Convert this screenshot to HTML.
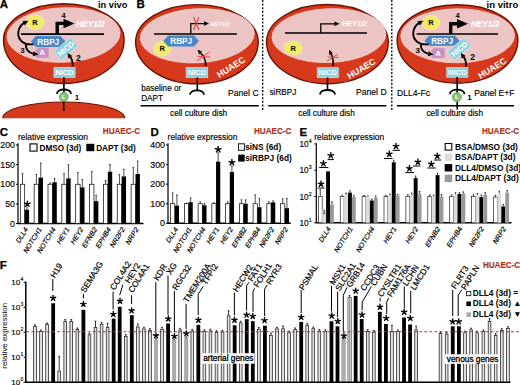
<!DOCTYPE html>
<html><head><meta charset="utf-8"><style>
html,body{margin:0;padding:0;background:#fff;overflow:hidden}
svg{display:block}
text{font-family:"Liberation Sans",sans-serif}
</style></head><body>
<svg width="520" height="385" viewBox="0 0 520 385">
<rect width="520" height="385" fill="#fff"/>
<text x="-0.30" y="8.40" font-size="11.5" font-weight="bold" font-style="normal" fill="#000" text-anchor="start" stroke="#000" stroke-width="0.25" >A</text>
<text x="98.00" y="8.30" font-size="9.3" font-weight="bold" font-style="normal" fill="#000" text-anchor="start"  >in vivo</text>
<path d="M3.5,40 A60.3,36.2 0 0 1 124.1,40 A60.3,43.5 0 0 1 3.5,40 Z" fill="#d6391c" stroke="#6a1206" stroke-width="1.4" transform="rotate(0 63.8 40)"/>
<ellipse cx="63.5" cy="35" rx="56.5" ry="27.3" fill="#ecc4c3" stroke="#f6d9d2" stroke-width="0.8" transform="rotate(-2.3 63.5 35)"/>
<line x1="21.00" y1="34.20" x2="104.00" y2="34.20" stroke="#000" stroke-width="1.7" />
<path d="M57.2,34.2 V23.4 H65.5" stroke="#000" stroke-width="3.4" fill="none"/>
<polygon points="74.50,23.40 63.50,28.15 63.50,18.65" fill="#000"/>
<text x="63.50" y="18.20" font-size="7.5" font-weight="bold" font-style="normal" fill="#000" text-anchor="middle"  >4</text>
<text x="76.30" y="26.60" font-size="8.2" font-weight="bold" font-style="italic" fill="#fff" text-anchor="start" stroke="#fff" stroke-width="0.2" >HEY1/2</text>
<ellipse cx="35.0" cy="22.3" rx="9.5" ry="8.0" fill="#f6f0a8" opacity="0.7"/>
<ellipse cx="35.0" cy="22.3" rx="8.3" ry="6.8" fill="#f3eb62"/>
<text x="35.00" y="25.00" font-size="7.5" font-weight="bold" font-style="normal" fill="#000" text-anchor="middle"  >R</text>
<polygon points="31,41.55 35.905,36.1 60.595,36.1 65.5,41.55 60.595,47 35.905,47" fill="#4a87c7"/>
<text x="48.25" y="44.50" font-size="8.2" font-weight="bold" font-style="normal" fill="#fff" text-anchor="middle"  >RBPJ</text>
<polygon points="38,47.6 48.6,47.6 48.6,57.8 36,57.8 36,49.6" fill="#c78fc6"/>
<text x="42.30" y="55.40" font-size="7.5" font-weight="bold" font-style="normal" fill="#fff" text-anchor="middle"  >A</text>
<g transform="translate(65.8 48.8) rotate(-40)">
<rect x="-10.75" y="-5.50" width="21.50" height="11.00" fill="#8dcfdf" stroke="#c5e8ef" stroke-width="0.8" />
<text x="0.00" y="2.81" font-size="7.8" font-weight="bold" font-style="normal" fill="#fff" text-anchor="middle"  >NICD</text>
</g>
<path d="M33.5,44.2 C24,45.5 17.5,40 18.3,32.5 C18.8,27.5 21.5,24.3 24.5,22.6" stroke="#000" stroke-width="1.9" fill="none"/>
<polygon points="28.30,20.80 24.93,25.54 22.49,20.95" fill="#000"/>
<path d="M25.8,44.6 C25.8,49.5 28.5,52.8 33.5,53.9" stroke="#000" stroke-width="1.9" fill="none"/>
<polygon points="38.40,54.60 32.83,56.26 33.73,51.14" fill="#000"/>
<text x="22.40" y="53.20" font-size="8" font-weight="bold" font-style="normal" fill="#000" text-anchor="middle"  >3</text>
<path d="M72.6,66.5 C73,61.5 71.8,58.5 69.8,56.3" stroke="#000" stroke-width="1.8" fill="none"/>
<polygon points="67.60,53.00 72.37,55.92 68.13,58.57" fill="#000"/>
<text x="78.30" y="60.60" font-size="8.5" font-weight="bold" font-style="normal" fill="#000" text-anchor="middle"  >2</text>
<rect x="54.00" y="67.50" width="21.00" height="9.80" fill="#8dcfdf" stroke="#c5e8ef" stroke-width="0.8" />
<text x="64.50" y="75.14" font-size="7.6" font-weight="bold" font-style="normal" fill="#fff" text-anchor="middle"  >NICD</text>
<line x1="63.90" y1="77.30" x2="63.90" y2="111.00" stroke="#000" stroke-width="1.6" />
<path d="M2.7,118.2 A61,16.2 0 0 1 124.7,118.2 Z" fill="#d6391c"/>
<path d="M2.7,118.2 A61,16.2 0 0 1 124.7,118.2" fill="none" stroke="#6a1206" stroke-width="1.1"/>
<line x1="63.70" y1="100.00" x2="63.70" y2="111.00" stroke="#000" stroke-width="1.6" />
<path d="M57.0,94.0 C57.0,88.0 71.0,88.0 71.0,94.0" stroke="#000" stroke-width="1.8" fill="none"/>
<circle cx="63.7" cy="96.9" r="4.6" fill="#86c271" stroke="#5b9a4a" stroke-width="0.6"/>
<text x="63.70" y="99.10" font-size="6.2" font-weight="bold" font-style="normal" fill="#fff" text-anchor="middle"  >L</text>
<text x="77.00" y="99.50" font-size="8" font-weight="bold" font-style="normal" fill="#000" text-anchor="middle"  >1</text>
<text x="136.60" y="8.40" font-size="11.5" font-weight="bold" font-style="normal" fill="#000" text-anchor="start" stroke="#000" stroke-width="0.25" >B</text>
<path d="M135.60000000000002,42 A61.3,37.4 0 0 1 258.2,42 A61.3,41.8 0 0 1 135.60000000000002,42 Z" fill="#d6391c" stroke="#6a1206" stroke-width="1.4" transform="rotate(0 196.9 42)"/>
<ellipse cx="197.3" cy="35.8" rx="57.0" ry="27.0" fill="#ecc4c3" stroke="#f6d9d2" stroke-width="0.8" transform="rotate(-3 197.3 35.8)"/>
<line x1="154.00" y1="34.00" x2="236.80" y2="34.00" stroke="#000" stroke-width="1.6" />
<path d="M190.8,34 V23.6 H206" stroke="#000" stroke-width="1.3" fill="none"/>
<polygon points="209.00,23.60 204.00,25.85 204.00,21.35" fill="#000"/>
<text x="210.50" y="25.80" font-size="5.6" font-weight="bold" font-style="italic" fill="#fff" text-anchor="start"  >HEY1/2</text>
<line x1="193.45" y1="17.00" x2="198.95" y2="30.00" stroke="#e04a3c" stroke-width="1.1" />
<line x1="198.95" y1="17.00" x2="193.45" y2="30.00" stroke="#e04a3c" stroke-width="1.1" />
<ellipse cx="162.3" cy="48.7" rx="9.2" ry="7.8" fill="#f6f0a8" opacity="0.7"/>
<ellipse cx="162.3" cy="48.7" rx="8.0" ry="6.6" fill="#f3eb62"/>
<text x="162.30" y="51.40" font-size="7.5" font-weight="bold" font-style="normal" fill="#000" text-anchor="middle"  >R</text>
<polygon points="163.3,41.05 168.205,35.6 194.095,35.6 199,41.05 194.095,46.5 168.205,46.5" fill="#4a87c7"/>
<text x="181.15" y="44.00" font-size="8.2" font-weight="bold" font-style="normal" fill="#fff" text-anchor="middle"  >RBPJ</text>
<path d="M205.7,66 C206,60 204,56 200.5,53" stroke="#000" stroke-width="1.6" fill="none"/>
<polygon points="197.50,49.80 202.17,51.50 199.20,54.47" fill="#000"/>
<line x1="197.00" y1="61.00" x2="209.30" y2="52.00" stroke="#e04a3c" stroke-width="1.0" />
<line x1="197.50" y1="56.30" x2="210.30" y2="57.00" stroke="#e04a3c" stroke-width="1.0" />
<rect x="186.20" y="67.60" width="21.50" height="9.80" fill="#8dcfdf" stroke="#c5e8ef" stroke-width="0.8" />
<text x="196.95" y="75.24" font-size="7.6" font-weight="bold" font-style="normal" fill="#fff" text-anchor="middle"  >NICD</text>
<text x="219.30" y="78.00" font-size="8.8" font-weight="bold" font-style="normal" fill="#fff" text-anchor="start"  transform="rotate(-32 219.3 78.0)">HUAEC</text>
<line x1="197.30" y1="77.40" x2="197.30" y2="91.00" stroke="#000" stroke-width="1.6" />
<path d="M190.0,94.8 C190.0,88.8 204.0,88.8 204.0,94.8" stroke="#000" stroke-width="1.8" fill="none"/>
<text x="141.20" y="90.60" font-size="8.2" font-weight="normal" font-style="normal" fill="#000" text-anchor="start" stroke="#000" stroke-width="0.15" >baseline or</text>
<text x="141.20" y="100.50" font-size="8.2" font-weight="normal" font-style="normal" fill="#000" text-anchor="start" stroke="#000" stroke-width="0.15" >DAPT</text>
<text x="258.60" y="95.70" font-size="8.6" font-weight="normal" font-style="normal" fill="#000" text-anchor="end" stroke="#000" stroke-width="0.15" >Panel C</text>
<line x1="140.50" y1="105.70" x2="258.80" y2="105.70" stroke="#000" stroke-width="1.6" />
<text x="170.00" y="116.30" font-size="8.3" font-weight="normal" font-style="normal" fill="#000" text-anchor="start" stroke="#000" stroke-width="0.15" >cell culture dish</text>
<line x1="262.70" y1="0.00" x2="262.70" y2="111.00" stroke="#000" stroke-width="1.3" stroke-dasharray="2,1.6"/>
<line x1="391.80" y1="0.00" x2="391.80" y2="111.00" stroke="#000" stroke-width="1.3" stroke-dasharray="2,1.6"/>
<path d="M266.5,42 A60.9,37.5 0 0 1 388.29999999999995,42 A60.9,41.75 0 0 1 266.5,42 Z" fill="#d6391c" stroke="#6a1206" stroke-width="1.4" transform="rotate(0 327.4 42)"/>
<ellipse cx="328.9" cy="35.6" rx="56.9" ry="26.9" fill="#ecc4c3" stroke="#f6d9d2" stroke-width="0.8" transform="rotate(-2 328.9 35.6)"/>
<line x1="285.00" y1="33.00" x2="367.00" y2="33.00" stroke="#000" stroke-width="1.6" />
<path d="M320.8,33 V23.8 H336.5" stroke="#000" stroke-width="1.3" fill="none"/>
<polygon points="339.50,23.80 334.50,26.05 334.50,21.55" fill="#000"/>
<text x="342.00" y="26.30" font-size="7.4" font-weight="bold" font-style="italic" fill="#fff" text-anchor="start"  >HEY1/2</text>
<ellipse cx="293.3" cy="48" rx="9.7" ry="7.4" fill="#f6f0a8" opacity="0.7"/>
<ellipse cx="293.3" cy="48" rx="8.5" ry="6.2" fill="#f3eb62"/>
<text x="293.30" y="50.70" font-size="7.5" font-weight="bold" font-style="normal" fill="#000" text-anchor="middle"  >R</text>
<path d="M333.2,66 C333.5,60 332.5,56 330.5,53" stroke="#000" stroke-width="1.6" fill="none"/>
<polygon points="329.30,49.80 332.81,53.31 328.87,54.75" fill="#000"/>
<line x1="327.00" y1="61.00" x2="338.00" y2="54.00" stroke="#e04a3c" stroke-width="1.0" />
<line x1="327.50" y1="57.00" x2="338.50" y2="57.50" stroke="#e04a3c" stroke-width="1.0" />
<rect x="317.30" y="67.80" width="21.00" height="9.80" fill="#8dcfdf" stroke="#c5e8ef" stroke-width="0.8" />
<text x="327.80" y="75.44" font-size="7.6" font-weight="bold" font-style="normal" fill="#fff" text-anchor="middle"  >NICD</text>
<text x="349.50" y="79.30" font-size="8.8" font-weight="bold" font-style="normal" fill="#fff" text-anchor="start"  transform="rotate(-31 349.5 79.3)">HUAEC</text>
<line x1="327.50" y1="77.50" x2="327.50" y2="91.00" stroke="#000" stroke-width="1.6" />
<path d="M320.0,94.5 C320.0,88.5 335.0,88.5 335.0,94.5" stroke="#000" stroke-width="1.8" fill="none"/>
<text x="269.50" y="95.20" font-size="8.2" font-weight="normal" font-style="normal" fill="#000" text-anchor="start" stroke="#000" stroke-width="0.15" >siRBPJ</text>
<text x="386.60" y="95.40" font-size="8.6" font-weight="normal" font-style="normal" fill="#000" text-anchor="end" stroke="#000" stroke-width="0.15" >Panel D</text>
<line x1="268.30" y1="105.70" x2="386.30" y2="105.70" stroke="#000" stroke-width="1.6" />
<text x="298.30" y="116.30" font-size="8.2" font-weight="normal" font-style="normal" fill="#000" text-anchor="start" stroke="#000" stroke-width="0.15" >cell culture dish</text>
<text x="486.60" y="8.00" font-size="9.5" font-weight="bold" font-style="normal" fill="#000" text-anchor="start"  >in vitro</text>
<path d="M397.1,40 A60.4,35.2 0 0 1 517.9,40 A60.4,43.2 0 0 1 397.1,40 Z" fill="#d6391c" stroke="#6a1206" stroke-width="1.4" transform="rotate(0 457.5 40)"/>
<ellipse cx="457.6" cy="35.8" rx="56.8" ry="27.0" fill="#ecc4c3" stroke="#f6d9d2" stroke-width="0.8" transform="rotate(-0.5 457.6 35.8)"/>
<line x1="416.60" y1="34.00" x2="498.00" y2="34.00" stroke="#000" stroke-width="1.7" />
<path d="M450.7,34.0 V23.7 H459.0" stroke="#000" stroke-width="3.4" fill="none"/>
<polygon points="468.00,23.70 457.00,28.45 457.00,18.95" fill="#000"/>
<text x="457.50" y="17.80" font-size="7.5" font-weight="bold" font-style="normal" fill="#000" text-anchor="middle"  >4</text>
<text x="471.00" y="26.70" font-size="8.2" font-weight="bold" font-style="italic" fill="#fff" text-anchor="start" stroke="#fff" stroke-width="0.2" >HEY1/2</text>
<ellipse cx="430.9" cy="22.7" rx="9.5" ry="7.7" fill="#f6f0a8" opacity="0.7"/>
<ellipse cx="430.9" cy="22.7" rx="8.3" ry="6.5" fill="#f3eb62"/>
<text x="430.90" y="25.40" font-size="7.5" font-weight="bold" font-style="normal" fill="#000" text-anchor="middle"  >R</text>
<polygon points="424.5,40.8 429.0,35.8 455.1,35.8 459.6,40.8 455.1,45.8 429.0,45.8" fill="#4a87c7"/>
<text x="442.05" y="43.75" font-size="8.2" font-weight="bold" font-style="normal" fill="#fff" text-anchor="middle"  >RBPJ</text>
<polygon points="433.7,48.2 444.6,48.2 444.6,57.9 431.7,57.9 431.7,50.2" fill="#c78fc6"/>
<text x="438.15" y="55.75" font-size="7.5" font-weight="bold" font-style="normal" fill="#fff" text-anchor="middle"  >A</text>
<g transform="translate(459.3 49.0) rotate(-40)">
<rect x="-10.75" y="-5.50" width="21.50" height="11.00" fill="#8dcfdf" stroke="#c5e8ef" stroke-width="0.8" />
<text x="0.00" y="2.81" font-size="7.8" font-weight="bold" font-style="normal" fill="#fff" text-anchor="middle"  >NICD</text>
</g>
<path d="M428.5,44.2 C419,45.5 412.5,40 413.3,32.5 C413.8,27.5 416.5,24.3 419.5,22.6" stroke="#000" stroke-width="1.9" fill="none"/>
<polygon points="423.30,20.80 419.93,25.54 417.49,20.95" fill="#000"/>
<path d="M420.8,44.6 C420.8,49.5 423.5,52.8 428.5,53.9" stroke="#000" stroke-width="1.9" fill="none"/>
<polygon points="433.40,54.60 427.83,56.26 428.73,51.14" fill="#000"/>
<text x="417.80" y="53.20" font-size="8" font-weight="bold" font-style="normal" fill="#000" text-anchor="middle"  >3</text>
<path d="M466,66.5 C466.4,61.5 465.2,58.5 463.2,56.3" stroke="#000" stroke-width="1.8" fill="none"/>
<polygon points="461.00,53.00 465.77,55.92 461.53,58.57" fill="#000"/>
<text x="472.60" y="60.40" font-size="8.5" font-weight="bold" font-style="normal" fill="#000" text-anchor="middle"  >2</text>
<rect x="446.80" y="67.70" width="21.00" height="9.50" fill="#8dcfdf" stroke="#c5e8ef" stroke-width="0.8" />
<text x="457.30" y="75.19" font-size="7.6" font-weight="bold" font-style="normal" fill="#fff" text-anchor="middle"  >NICD</text>
<text x="480.50" y="79.00" font-size="8.8" font-weight="bold" font-style="normal" fill="#fff" text-anchor="start"  transform="rotate(-32 480.5 79.0)">HUAEC</text>
<line x1="457.20" y1="77.00" x2="457.20" y2="109.50" stroke="#000" stroke-width="1.6" />
<path d="M449.95,94.2 C449.95,88.2 464.45,88.2 464.45,94.2" stroke="#000" stroke-width="1.8" fill="none"/>
<circle cx="456.8" cy="97.2" r="4.6" fill="#86c271" stroke="#5b9a4a" stroke-width="0.6"/>
<text x="456.80" y="99.40" font-size="6.2" font-weight="bold" font-style="normal" fill="#fff" text-anchor="middle"  >L</text>
<text x="469.50" y="100.00" font-size="8" font-weight="bold" font-style="normal" fill="#000" text-anchor="middle"  >1</text>
<text x="397.00" y="95.60" font-size="8.6" font-weight="normal" font-style="normal" fill="#000" text-anchor="start" stroke="#000" stroke-width="0.15" >DLL4-Fc</text>
<text x="514.60" y="95.70" font-size="8.6" font-weight="normal" font-style="normal" fill="#000" text-anchor="end" stroke="#000" stroke-width="0.15" >Panel E+F</text>
<line x1="397.00" y1="105.70" x2="514.00" y2="105.70" stroke="#000" stroke-width="1.6" />
<text x="426.50" y="115.60" font-size="8.2" font-weight="normal" font-style="normal" fill="#000" text-anchor="start" stroke="#000" stroke-width="0.15" >cell culture dish</text>
<text x="-0.30" y="135.80" font-size="11.5" font-weight="bold" font-style="normal" fill="#000" text-anchor="start" stroke="#000" stroke-width="0.25" >C</text>
<text x="18.00" y="139.70" font-size="8.4" font-weight="normal" font-style="normal" fill="#000" text-anchor="start" stroke="#000" stroke-width="0.15" >relative expression</text>
<text x="0" y="0" font-size="9.0" font-weight="bold" fill="#ad3422" stroke="#ad3422" stroke-width="0.2" transform="translate(102.8 134.1) scale(0.9 1)">HUAEC-C</text>
<rect x="30.00" y="143.90" width="7.00" height="7.20" fill="#fff" stroke="#000" stroke-width="1.1" />
<text x="39.50" y="151.00" font-size="8.2" font-weight="bold" font-style="normal" fill="#000" text-anchor="start"  >DMSO (3d)</text>
<rect x="86.30" y="143.80" width="8.00" height="7.40" fill="#000" stroke="none" stroke-width="0" />
<text x="96.20" y="151.00" font-size="8.2" font-weight="bold" font-style="normal" fill="#000" text-anchor="start"  >DAPT (3d)</text>
<line x1="18.00" y1="143.20" x2="18.00" y2="223.50" stroke="#000" stroke-width="1.2" />
<line x1="17.40" y1="223.50" x2="143.50" y2="223.50" stroke="#000" stroke-width="1.4" />
<line x1="16.00" y1="223.50" x2="18.00" y2="223.50" stroke="#000" stroke-width="1" />
<text x="15.00" y="226.60" font-size="8.8" font-weight="normal" font-style="normal" fill="#000" text-anchor="end" stroke="#000" stroke-width="0.15" >0</text>
<line x1="16.00" y1="203.88" x2="18.00" y2="203.88" stroke="#000" stroke-width="1" />
<text x="15.00" y="206.97" font-size="8.8" font-weight="normal" font-style="normal" fill="#000" text-anchor="end" stroke="#000" stroke-width="0.15" >50</text>
<line x1="16.00" y1="184.25" x2="18.00" y2="184.25" stroke="#000" stroke-width="1" />
<text x="15.00" y="187.35" font-size="8.8" font-weight="normal" font-style="normal" fill="#000" text-anchor="end" stroke="#000" stroke-width="0.15" >100</text>
<line x1="16.00" y1="164.62" x2="18.00" y2="164.62" stroke="#000" stroke-width="1" />
<text x="15.00" y="167.72" font-size="8.8" font-weight="normal" font-style="normal" fill="#000" text-anchor="end" stroke="#000" stroke-width="0.15" >150</text>
<line x1="16.00" y1="145.00" x2="18.00" y2="145.00" stroke="#000" stroke-width="1" />
<text x="15.00" y="148.10" font-size="8.8" font-weight="normal" font-style="normal" fill="#000" text-anchor="end" stroke="#000" stroke-width="0.15" >200</text>
<line x1="22.50" y1="184.25" x2="22.50" y2="173.65" stroke="#000" stroke-width="0.7" />
<line x1="21.70" y1="173.65" x2="23.30" y2="173.65" stroke="#000" stroke-width="0.7" />
<line x1="26.90" y1="209.76" x2="26.90" y2="207.80" stroke="#000" stroke-width="0.7" />
<line x1="26.10" y1="207.80" x2="27.70" y2="207.80" stroke="#000" stroke-width="0.7" />
<rect x="20.30" y="184.25" width="4.40" height="39.25" fill="#fff" stroke="#000" stroke-width="0.7" />
<rect x="24.70" y="209.76" width="4.40" height="13.74" fill="#000" stroke="none" stroke-width="0" />
<text x="28.30" y="229.30" font-size="7.0" font-weight="normal" font-style="italic" stroke="#000" stroke-width="0.2" text-anchor="end" transform="rotate(-58 28.30 229.30)">DLL4</text>
<line x1="36.35" y1="184.25" x2="36.35" y2="174.44" stroke="#000" stroke-width="0.7" />
<line x1="35.55" y1="174.44" x2="37.15" y2="174.44" stroke="#000" stroke-width="0.7" />
<line x1="40.75" y1="177.58" x2="40.75" y2="163.06" stroke="#000" stroke-width="0.7" />
<line x1="39.95" y1="163.06" x2="41.55" y2="163.06" stroke="#000" stroke-width="0.7" />
<rect x="34.15" y="184.25" width="4.40" height="39.25" fill="#fff" stroke="#000" stroke-width="0.7" />
<rect x="38.55" y="177.58" width="4.40" height="45.92" fill="#000" stroke="none" stroke-width="0" />
<text x="42.15" y="229.30" font-size="7.0" font-weight="normal" font-style="italic" stroke="#000" stroke-width="0.2" text-anchor="end" transform="rotate(-58 42.15 229.30)">NOTCH1</text>
<line x1="50.20" y1="184.25" x2="50.20" y2="183.07" stroke="#000" stroke-width="0.7" />
<line x1="49.40" y1="183.07" x2="51.00" y2="183.07" stroke="#000" stroke-width="0.7" />
<line x1="54.60" y1="182.29" x2="54.60" y2="178.36" stroke="#000" stroke-width="0.7" />
<line x1="53.80" y1="178.36" x2="55.40" y2="178.36" stroke="#000" stroke-width="0.7" />
<rect x="48.00" y="184.25" width="4.40" height="39.25" fill="#fff" stroke="#000" stroke-width="0.7" />
<rect x="52.40" y="182.29" width="4.40" height="41.21" fill="#000" stroke="none" stroke-width="0" />
<text x="56.00" y="229.30" font-size="7.0" font-weight="normal" font-style="italic" stroke="#000" stroke-width="0.2" text-anchor="end" transform="rotate(-58 56.00 229.30)">NOTCH4</text>
<line x1="64.05" y1="184.25" x2="64.05" y2="173.65" stroke="#000" stroke-width="0.7" />
<line x1="63.25" y1="173.65" x2="64.85" y2="173.65" stroke="#000" stroke-width="0.7" />
<line x1="68.45" y1="178.36" x2="68.45" y2="164.62" stroke="#000" stroke-width="0.7" />
<line x1="67.65" y1="164.62" x2="69.25" y2="164.62" stroke="#000" stroke-width="0.7" />
<rect x="61.85" y="184.25" width="4.40" height="39.25" fill="#fff" stroke="#000" stroke-width="0.7" />
<rect x="66.25" y="178.36" width="4.40" height="45.14" fill="#000" stroke="none" stroke-width="0" />
<text x="69.85" y="229.30" font-size="7.0" font-weight="normal" font-style="italic" stroke="#000" stroke-width="0.2" text-anchor="end" transform="rotate(-58 69.85 229.30)">HEY1</text>
<line x1="77.90" y1="184.25" x2="77.90" y2="172.47" stroke="#000" stroke-width="0.7" />
<line x1="77.10" y1="172.47" x2="78.70" y2="172.47" stroke="#000" stroke-width="0.7" />
<line x1="82.30" y1="187.39" x2="82.30" y2="179.54" stroke="#000" stroke-width="0.7" />
<line x1="81.50" y1="179.54" x2="83.10" y2="179.54" stroke="#000" stroke-width="0.7" />
<rect x="75.70" y="184.25" width="4.40" height="39.25" fill="#fff" stroke="#000" stroke-width="0.7" />
<rect x="80.10" y="187.39" width="4.40" height="36.11" fill="#000" stroke="none" stroke-width="0" />
<text x="83.70" y="229.30" font-size="7.0" font-weight="normal" font-style="italic" stroke="#000" stroke-width="0.2" text-anchor="end" transform="rotate(-58 83.70 229.30)">HEY2</text>
<line x1="91.75" y1="184.25" x2="91.75" y2="171.69" stroke="#000" stroke-width="0.7" />
<line x1="90.95" y1="171.69" x2="92.55" y2="171.69" stroke="#000" stroke-width="0.7" />
<line x1="96.15" y1="201.13" x2="96.15" y2="195.24" stroke="#000" stroke-width="0.7" />
<line x1="95.35" y1="195.24" x2="96.95" y2="195.24" stroke="#000" stroke-width="0.7" />
<rect x="89.55" y="184.25" width="4.40" height="39.25" fill="#fff" stroke="#000" stroke-width="0.7" />
<rect x="93.95" y="201.13" width="4.40" height="22.37" fill="#000" stroke="none" stroke-width="0" />
<text x="97.55" y="229.30" font-size="7.0" font-weight="normal" font-style="italic" stroke="#000" stroke-width="0.2" text-anchor="end" transform="rotate(-58 97.55 229.30)">EFNB2</text>
<line x1="105.60" y1="184.25" x2="105.60" y2="180.32" stroke="#000" stroke-width="0.7" />
<line x1="104.80" y1="180.32" x2="106.40" y2="180.32" stroke="#000" stroke-width="0.7" />
<line x1="110.00" y1="171.69" x2="110.00" y2="164.62" stroke="#000" stroke-width="0.7" />
<line x1="109.20" y1="164.62" x2="110.80" y2="164.62" stroke="#000" stroke-width="0.7" />
<rect x="103.40" y="184.25" width="4.40" height="39.25" fill="#fff" stroke="#000" stroke-width="0.7" />
<rect x="107.80" y="171.69" width="4.40" height="51.81" fill="#000" stroke="none" stroke-width="0" />
<text x="111.40" y="229.30" font-size="7.0" font-weight="normal" font-style="italic" stroke="#000" stroke-width="0.2" text-anchor="end" transform="rotate(-58 111.40 229.30)">EPHB4</text>
<line x1="119.45" y1="184.25" x2="119.45" y2="174.44" stroke="#000" stroke-width="0.7" />
<line x1="118.65" y1="174.44" x2="120.25" y2="174.44" stroke="#000" stroke-width="0.7" />
<line x1="123.85" y1="176.40" x2="123.85" y2="169.34" stroke="#000" stroke-width="0.7" />
<line x1="123.05" y1="169.34" x2="124.65" y2="169.34" stroke="#000" stroke-width="0.7" />
<rect x="117.25" y="184.25" width="4.40" height="39.25" fill="#fff" stroke="#000" stroke-width="0.7" />
<rect x="121.65" y="176.40" width="4.40" height="47.10" fill="#000" stroke="none" stroke-width="0" />
<text x="125.25" y="229.30" font-size="7.0" font-weight="normal" font-style="italic" stroke="#000" stroke-width="0.2" text-anchor="end" transform="rotate(-58 125.25 229.30)">NR2F2</text>
<line x1="133.30" y1="184.25" x2="133.30" y2="167.37" stroke="#000" stroke-width="0.7" />
<line x1="132.50" y1="167.37" x2="134.10" y2="167.37" stroke="#000" stroke-width="0.7" />
<line x1="137.70" y1="174.04" x2="137.70" y2="161.09" stroke="#000" stroke-width="0.7" />
<line x1="136.90" y1="161.09" x2="138.50" y2="161.09" stroke="#000" stroke-width="0.7" />
<rect x="131.10" y="184.25" width="4.40" height="39.25" fill="#fff" stroke="#000" stroke-width="0.7" />
<rect x="135.50" y="174.04" width="4.40" height="49.46" fill="#000" stroke="none" stroke-width="0" />
<text x="139.10" y="229.30" font-size="7.0" font-weight="normal" font-style="italic" stroke="#000" stroke-width="0.2" text-anchor="end" transform="rotate(-58 139.10 229.30)">NRP2</text>
<path d="M27.40,204.00L27.40,201.10M27.40,204.00L30.16,203.10M27.40,204.00L29.10,206.35M27.40,204.00L25.70,206.35M27.40,204.00L24.64,203.10" stroke="#000" stroke-width="1.4" stroke-linecap="round" fill="none"/>
<text x="150.60" y="136.20" font-size="11.5" font-weight="bold" font-style="normal" fill="#000" text-anchor="start" stroke="#000" stroke-width="0.25" >D</text>
<text x="167.60" y="139.70" font-size="8.4" font-weight="normal" font-style="normal" fill="#000" text-anchor="start" stroke="#000" stroke-width="0.15" >relative expression</text>
<text x="0" y="0" font-size="9.0" font-weight="bold" fill="#ad3422" stroke="#ad3422" stroke-width="0.2" transform="translate(254.0 134.1) scale(0.9 1)">HUAEC-C</text>
<rect x="238.40" y="143.80" width="6.00" height="6.50" fill="#fff" stroke="#000" stroke-width="0.9" />
<text x="245.20" y="150.30" font-size="8.3" font-weight="bold" font-style="normal" fill="#000" text-anchor="start"  >siNS (6d)</text>
<rect x="238.20" y="154.60" width="6.50" height="7.00" fill="#000" stroke="none" stroke-width="0" />
<text x="245.20" y="161.20" font-size="8.3" font-weight="bold" font-style="normal" fill="#000" text-anchor="start"  >siRBPJ (6d)</text>
<line x1="168.00" y1="143.20" x2="168.00" y2="223.30" stroke="#000" stroke-width="1.2" />
<line x1="167.40" y1="223.30" x2="290.80" y2="223.30" stroke="#000" stroke-width="1.4" />
<line x1="166.00" y1="223.30" x2="168.00" y2="223.30" stroke="#000" stroke-width="1" />
<text x="165.00" y="226.40" font-size="8.8" font-weight="normal" font-style="normal" fill="#000" text-anchor="end" stroke="#000" stroke-width="0.15" >0</text>
<line x1="166.00" y1="203.73" x2="168.00" y2="203.73" stroke="#000" stroke-width="1" />
<text x="165.00" y="206.83" font-size="8.8" font-weight="normal" font-style="normal" fill="#000" text-anchor="end" stroke="#000" stroke-width="0.15" >100</text>
<line x1="166.00" y1="184.16" x2="168.00" y2="184.16" stroke="#000" stroke-width="1" />
<text x="165.00" y="187.26" font-size="8.8" font-weight="normal" font-style="normal" fill="#000" text-anchor="end" stroke="#000" stroke-width="0.15" >200</text>
<line x1="166.00" y1="164.59" x2="168.00" y2="164.59" stroke="#000" stroke-width="1" />
<text x="165.00" y="167.69" font-size="8.8" font-weight="normal" font-style="normal" fill="#000" text-anchor="end" stroke="#000" stroke-width="0.15" >300</text>
<line x1="166.00" y1="145.02" x2="168.00" y2="145.02" stroke="#000" stroke-width="1" />
<text x="165.00" y="148.12" font-size="8.8" font-weight="normal" font-style="normal" fill="#000" text-anchor="end" stroke="#000" stroke-width="0.15" >400</text>
<line x1="172.70" y1="203.73" x2="172.70" y2="192.97" stroke="#000" stroke-width="0.7" />
<line x1="171.90" y1="192.97" x2="173.50" y2="192.97" stroke="#000" stroke-width="0.7" />
<line x1="176.90" y1="205.69" x2="176.90" y2="194.92" stroke="#000" stroke-width="0.7" />
<line x1="176.10" y1="194.92" x2="177.70" y2="194.92" stroke="#000" stroke-width="0.7" />
<rect x="170.60" y="203.73" width="4.20" height="19.57" fill="#fff" stroke="#000" stroke-width="0.7" />
<rect x="174.80" y="205.69" width="4.20" height="17.61" fill="#000" stroke="none" stroke-width="0" />
<text x="178.40" y="229.10" font-size="7.0" font-weight="normal" font-style="italic" stroke="#000" stroke-width="0.2" text-anchor="end" transform="rotate(-58 178.40 229.10)">DLL4</text>
<line x1="186.45" y1="203.73" x2="186.45" y2="203.14" stroke="#000" stroke-width="0.7" />
<line x1="185.65" y1="203.14" x2="187.25" y2="203.14" stroke="#000" stroke-width="0.7" />
<line x1="190.65" y1="202.16" x2="190.65" y2="197.86" stroke="#000" stroke-width="0.7" />
<line x1="189.85" y1="197.86" x2="191.45" y2="197.86" stroke="#000" stroke-width="0.7" />
<rect x="184.35" y="203.73" width="4.20" height="19.57" fill="#fff" stroke="#000" stroke-width="0.7" />
<rect x="188.55" y="202.16" width="4.20" height="21.14" fill="#000" stroke="none" stroke-width="0" />
<text x="192.15" y="229.10" font-size="7.0" font-weight="normal" font-style="italic" stroke="#000" stroke-width="0.2" text-anchor="end" transform="rotate(-58 192.15 229.10)">NOTCH1</text>
<line x1="200.20" y1="203.73" x2="200.20" y2="201.77" stroke="#000" stroke-width="0.7" />
<line x1="199.40" y1="201.77" x2="201.00" y2="201.77" stroke="#000" stroke-width="0.7" />
<line x1="204.40" y1="205.30" x2="204.40" y2="203.34" stroke="#000" stroke-width="0.7" />
<line x1="203.60" y1="203.34" x2="205.20" y2="203.34" stroke="#000" stroke-width="0.7" />
<rect x="198.10" y="203.73" width="4.20" height="19.57" fill="#fff" stroke="#000" stroke-width="0.7" />
<rect x="202.30" y="205.30" width="4.20" height="18.00" fill="#000" stroke="none" stroke-width="0" />
<text x="205.90" y="229.10" font-size="7.0" font-weight="normal" font-style="italic" stroke="#000" stroke-width="0.2" text-anchor="end" transform="rotate(-58 205.90 229.10)">NOTCH4</text>
<line x1="213.95" y1="203.73" x2="213.95" y2="202.75" stroke="#000" stroke-width="0.7" />
<line x1="213.15" y1="202.75" x2="214.75" y2="202.75" stroke="#000" stroke-width="0.7" />
<line x1="218.15" y1="161.65" x2="218.15" y2="152.85" stroke="#000" stroke-width="0.7" />
<line x1="217.35" y1="152.85" x2="218.95" y2="152.85" stroke="#000" stroke-width="0.7" />
<rect x="211.85" y="203.73" width="4.20" height="19.57" fill="#fff" stroke="#000" stroke-width="0.7" />
<rect x="216.05" y="161.65" width="4.20" height="61.65" fill="#000" stroke="none" stroke-width="0" />
<text x="219.65" y="229.10" font-size="7.0" font-weight="normal" font-style="italic" stroke="#000" stroke-width="0.2" text-anchor="end" transform="rotate(-58 219.65 229.10)">HEY1</text>
<line x1="227.70" y1="203.73" x2="227.70" y2="201.77" stroke="#000" stroke-width="0.7" />
<line x1="226.90" y1="201.77" x2="228.50" y2="201.77" stroke="#000" stroke-width="0.7" />
<line x1="231.90" y1="172.03" x2="231.90" y2="166.16" stroke="#000" stroke-width="0.7" />
<line x1="231.10" y1="166.16" x2="232.70" y2="166.16" stroke="#000" stroke-width="0.7" />
<rect x="225.60" y="203.73" width="4.20" height="19.57" fill="#fff" stroke="#000" stroke-width="0.7" />
<rect x="229.80" y="172.03" width="4.20" height="51.27" fill="#000" stroke="none" stroke-width="0" />
<text x="233.40" y="229.10" font-size="7.0" font-weight="normal" font-style="italic" stroke="#000" stroke-width="0.2" text-anchor="end" transform="rotate(-58 233.40 229.10)">HEY2</text>
<line x1="241.45" y1="203.73" x2="241.45" y2="199.82" stroke="#000" stroke-width="0.7" />
<line x1="240.65" y1="199.82" x2="242.25" y2="199.82" stroke="#000" stroke-width="0.7" />
<line x1="245.65" y1="203.73" x2="245.65" y2="199.82" stroke="#000" stroke-width="0.7" />
<line x1="244.85" y1="199.82" x2="246.45" y2="199.82" stroke="#000" stroke-width="0.7" />
<rect x="239.35" y="203.73" width="4.20" height="19.57" fill="#fff" stroke="#000" stroke-width="0.7" />
<rect x="243.55" y="203.73" width="4.20" height="19.57" fill="#000" stroke="none" stroke-width="0" />
<text x="247.15" y="229.10" font-size="7.0" font-weight="normal" font-style="italic" stroke="#000" stroke-width="0.2" text-anchor="end" transform="rotate(-58 247.15 229.10)">EFNB2</text>
<line x1="255.20" y1="203.73" x2="255.20" y2="194.92" stroke="#000" stroke-width="0.7" />
<line x1="254.40" y1="194.92" x2="256.00" y2="194.92" stroke="#000" stroke-width="0.7" />
<line x1="259.40" y1="207.25" x2="259.40" y2="198.45" stroke="#000" stroke-width="0.7" />
<line x1="258.60" y1="198.45" x2="260.20" y2="198.45" stroke="#000" stroke-width="0.7" />
<rect x="253.10" y="203.73" width="4.20" height="19.57" fill="#fff" stroke="#000" stroke-width="0.7" />
<rect x="257.30" y="207.25" width="4.20" height="16.05" fill="#000" stroke="none" stroke-width="0" />
<text x="260.90" y="229.10" font-size="7.0" font-weight="normal" font-style="italic" stroke="#000" stroke-width="0.2" text-anchor="end" transform="rotate(-58 260.90 229.10)">EPHB4</text>
<line x1="268.95" y1="203.73" x2="268.95" y2="201.77" stroke="#000" stroke-width="0.7" />
<line x1="268.15" y1="201.77" x2="269.75" y2="201.77" stroke="#000" stroke-width="0.7" />
<line x1="273.15" y1="202.36" x2="273.15" y2="200.79" stroke="#000" stroke-width="0.7" />
<line x1="272.35" y1="200.79" x2="273.95" y2="200.79" stroke="#000" stroke-width="0.7" />
<rect x="266.85" y="203.73" width="4.20" height="19.57" fill="#fff" stroke="#000" stroke-width="0.7" />
<rect x="271.05" y="202.36" width="4.20" height="20.94" fill="#000" stroke="none" stroke-width="0" />
<text x="274.65" y="229.10" font-size="7.0" font-weight="normal" font-style="italic" stroke="#000" stroke-width="0.2" text-anchor="end" transform="rotate(-58 274.65 229.10)">NR2F2</text>
<line x1="282.70" y1="203.73" x2="282.70" y2="198.84" stroke="#000" stroke-width="0.7" />
<line x1="281.90" y1="198.84" x2="283.50" y2="198.84" stroke="#000" stroke-width="0.7" />
<line x1="286.90" y1="208.23" x2="286.90" y2="198.45" stroke="#000" stroke-width="0.7" />
<line x1="286.10" y1="198.45" x2="287.70" y2="198.45" stroke="#000" stroke-width="0.7" />
<rect x="280.60" y="203.73" width="4.20" height="19.57" fill="#fff" stroke="#000" stroke-width="0.7" />
<rect x="284.80" y="208.23" width="4.20" height="15.07" fill="#000" stroke="none" stroke-width="0" />
<text x="288.40" y="229.10" font-size="7.0" font-weight="normal" font-style="italic" stroke="#000" stroke-width="0.2" text-anchor="end" transform="rotate(-58 288.40 229.10)">NRP2</text>
<path d="M218.15,149.50L218.15,146.50M218.15,149.50L221.00,148.57M218.15,149.50L219.91,151.93M218.15,149.50L216.39,151.93M218.15,149.50L215.30,148.57" stroke="#000" stroke-width="1.4" stroke-linecap="round" fill="none"/>
<path d="M231.90,162.50L231.90,159.50M231.90,162.50L234.75,161.57M231.90,162.50L233.66,164.93M231.90,162.50L230.14,164.93M231.90,162.50L229.05,161.57" stroke="#000" stroke-width="1.4" stroke-linecap="round" fill="none"/>
<text x="299.60" y="135.90" font-size="11.5" font-weight="bold" font-style="normal" fill="#000" text-anchor="start" stroke="#000" stroke-width="0.25" >E</text>
<text x="314.30" y="139.70" font-size="8.4" font-weight="normal" font-style="normal" fill="#000" text-anchor="start" stroke="#000" stroke-width="0.15" >relative expression</text>
<text x="0" y="0" font-size="9.0" font-weight="bold" fill="#ad3422" stroke="#ad3422" stroke-width="0.2" transform="translate(481.9 134.1) scale(0.9 1)">HUAEC-C</text>
<rect x="445.20" y="143.50" width="6.60" height="6.60" fill="#fff" stroke="#000" stroke-width="1.1" />
<text x="455.00" y="149.70" font-size="8.4" font-weight="bold" font-style="normal" fill="#000" text-anchor="start"  >BSA/DMSO (3d)</text>
<rect x="444.70" y="153.55" width="7.50" height="7.40" fill="#dcdcdc" stroke="none" stroke-width="0" />
<text x="455.00" y="160.25" font-size="8.4" font-weight="bold" font-style="normal" fill="#000" text-anchor="start"  >BSA/DAPT (3d)</text>
<rect x="444.70" y="164.10" width="7.50" height="7.40" fill="#000" stroke="none" stroke-width="0" />
<text x="455.00" y="170.80" font-size="8.4" font-weight="bold" font-style="normal" fill="#000" text-anchor="start"  >DLL4/DMSO (3d)</text>
<rect x="444.70" y="174.65" width="7.50" height="7.40" fill="#9a9a9a" stroke="none" stroke-width="0" />
<text x="455.00" y="181.35" font-size="8.4" font-weight="bold" font-style="normal" fill="#000" text-anchor="start"  >DLL4/DAPT (3d)</text>
<line x1="316.30" y1="143.20" x2="316.30" y2="222.80" stroke="#000" stroke-width="1.2" />
<line x1="315.70" y1="222.80" x2="511.50" y2="222.80" stroke="#000" stroke-width="1.4" />
<line x1="314.30" y1="222.80" x2="316.30" y2="222.80" stroke="#000" stroke-width="1" />
<text x="308.50" y="225.90" font-size="8.2" font-weight="normal" font-style="normal" fill="#000" text-anchor="end" stroke="#000" stroke-width="0.15" >10</text>
<text x="308.70" y="222.00" font-size="5.2" font-weight="normal" font-style="normal" fill="#000" text-anchor="start" stroke="#000" stroke-width="0.15" >1</text>
<line x1="314.30" y1="196.50" x2="316.30" y2="196.50" stroke="#000" stroke-width="1" />
<text x="308.50" y="199.60" font-size="8.2" font-weight="normal" font-style="normal" fill="#000" text-anchor="end" stroke="#000" stroke-width="0.15" >10</text>
<text x="308.70" y="195.70" font-size="5.2" font-weight="normal" font-style="normal" fill="#000" text-anchor="start" stroke="#000" stroke-width="0.15" >2</text>
<line x1="314.30" y1="170.20" x2="316.30" y2="170.20" stroke="#000" stroke-width="1" />
<text x="308.50" y="173.30" font-size="8.2" font-weight="normal" font-style="normal" fill="#000" text-anchor="end" stroke="#000" stroke-width="0.15" >10</text>
<text x="308.70" y="169.40" font-size="5.2" font-weight="normal" font-style="normal" fill="#000" text-anchor="start" stroke="#000" stroke-width="0.15" >3</text>
<line x1="314.30" y1="143.90" x2="316.30" y2="143.90" stroke="#000" stroke-width="1" />
<text x="308.50" y="147.00" font-size="8.2" font-weight="normal" font-style="normal" fill="#000" text-anchor="end" stroke="#000" stroke-width="0.15" >10</text>
<text x="308.70" y="143.10" font-size="5.2" font-weight="normal" font-style="normal" fill="#000" text-anchor="start" stroke="#000" stroke-width="0.15" >4</text>
<line x1="320.25" y1="196.50" x2="320.25" y2="189.79" stroke="#000" stroke-width="0.7" />
<line x1="319.45" y1="189.79" x2="321.05" y2="189.79" stroke="#000" stroke-width="0.7" />
<rect x="318.30" y="196.50" width="3.90" height="26.30" fill="#fff" stroke="#000" stroke-width="0.6" />
<rect x="322.20" y="209.51" width="3.90" height="13.29" fill="#dcdcdc" stroke="none" stroke-width="0" />
<rect x="326.10" y="171.40" width="3.90" height="51.40" fill="#000" stroke="none" stroke-width="0" />
<line x1="331.95" y1="204.42" x2="331.95" y2="201.78" stroke="#000" stroke-width="0.7" />
<line x1="331.15" y1="201.78" x2="332.75" y2="201.78" stroke="#000" stroke-width="0.7" />
<rect x="330.00" y="204.42" width="3.90" height="18.38" fill="#9a9a9a" stroke="none" stroke-width="0" />
<text x="331.10" y="228.60" font-size="7.0" font-weight="normal" font-style="italic" stroke="#000" stroke-width="0.2" text-anchor="end" transform="rotate(-58 331.10 228.60)">DLL4</text>
<line x1="342.15" y1="196.50" x2="342.15" y2="195.21" stroke="#000" stroke-width="0.7" />
<line x1="341.35" y1="195.21" x2="342.95" y2="195.21" stroke="#000" stroke-width="0.7" />
<rect x="340.20" y="196.50" width="3.90" height="26.30" fill="#fff" stroke="#000" stroke-width="0.6" />
<line x1="346.05" y1="194.90" x2="346.05" y2="193.07" stroke="#000" stroke-width="0.7" />
<line x1="345.25" y1="193.07" x2="346.85" y2="193.07" stroke="#000" stroke-width="0.7" />
<rect x="344.10" y="194.90" width="3.90" height="27.90" fill="#dcdcdc" stroke="none" stroke-width="0" />
<line x1="349.95" y1="192.66" x2="349.95" y2="190.78" stroke="#000" stroke-width="0.7" />
<line x1="349.15" y1="190.78" x2="350.75" y2="190.78" stroke="#000" stroke-width="0.7" />
<rect x="348.00" y="192.66" width="3.90" height="30.14" fill="#000" stroke="none" stroke-width="0" />
<line x1="353.85" y1="197.09" x2="353.85" y2="195.41" stroke="#000" stroke-width="0.7" />
<line x1="353.05" y1="195.41" x2="354.65" y2="195.41" stroke="#000" stroke-width="0.7" />
<rect x="351.90" y="197.09" width="3.90" height="25.71" fill="#9a9a9a" stroke="none" stroke-width="0" />
<text x="353.00" y="228.60" font-size="7.0" font-weight="normal" font-style="italic" stroke="#000" stroke-width="0.2" text-anchor="end" transform="rotate(-58 353.00 228.60)">NOTCH1</text>
<line x1="364.05" y1="196.50" x2="364.05" y2="195.41" stroke="#000" stroke-width="0.7" />
<line x1="363.25" y1="195.41" x2="364.85" y2="195.41" stroke="#000" stroke-width="0.7" />
<rect x="362.10" y="196.50" width="3.90" height="26.30" fill="#fff" stroke="#000" stroke-width="0.6" />
<line x1="367.95" y1="196.50" x2="367.95" y2="195.83" stroke="#000" stroke-width="0.7" />
<line x1="367.15" y1="195.83" x2="368.75" y2="195.83" stroke="#000" stroke-width="0.7" />
<rect x="366.00" y="196.50" width="3.90" height="26.30" fill="#dcdcdc" stroke="none" stroke-width="0" />
<line x1="371.85" y1="200.57" x2="371.85" y2="199.05" stroke="#000" stroke-width="0.7" />
<line x1="371.05" y1="199.05" x2="372.65" y2="199.05" stroke="#000" stroke-width="0.7" />
<rect x="369.90" y="200.57" width="3.90" height="22.23" fill="#000" stroke="none" stroke-width="0" />
<line x1="375.75" y1="197.70" x2="375.75" y2="195.94" stroke="#000" stroke-width="0.7" />
<line x1="374.95" y1="195.94" x2="376.55" y2="195.94" stroke="#000" stroke-width="0.7" />
<rect x="373.80" y="197.70" width="3.90" height="25.10" fill="#9a9a9a" stroke="none" stroke-width="0" />
<text x="374.90" y="228.60" font-size="7.0" font-weight="normal" font-style="italic" stroke="#000" stroke-width="0.2" text-anchor="end" transform="rotate(-58 374.90 228.60)">NOTCH4</text>
<line x1="385.95" y1="196.50" x2="385.95" y2="195.41" stroke="#000" stroke-width="0.7" />
<line x1="385.15" y1="195.41" x2="386.75" y2="195.41" stroke="#000" stroke-width="0.7" />
<rect x="384.00" y="196.50" width="3.90" height="26.30" fill="#fff" stroke="#000" stroke-width="0.6" />
<line x1="389.85" y1="195.21" x2="389.85" y2="193.95" stroke="#000" stroke-width="0.7" />
<line x1="389.05" y1="193.95" x2="390.65" y2="193.95" stroke="#000" stroke-width="0.7" />
<rect x="387.90" y="195.21" width="3.90" height="27.59" fill="#dcdcdc" stroke="none" stroke-width="0" />
<line x1="393.75" y1="162.28" x2="393.75" y2="160.20" stroke="#000" stroke-width="0.7" />
<line x1="392.95" y1="160.20" x2="394.55" y2="160.20" stroke="#000" stroke-width="0.7" />
<rect x="391.80" y="162.28" width="3.90" height="60.52" fill="#000" stroke="none" stroke-width="0" />
<line x1="397.65" y1="195.41" x2="397.65" y2="194.42" stroke="#000" stroke-width="0.7" />
<line x1="396.85" y1="194.42" x2="398.45" y2="194.42" stroke="#000" stroke-width="0.7" />
<rect x="395.70" y="195.41" width="3.90" height="27.39" fill="#9a9a9a" stroke="none" stroke-width="0" />
<text x="396.80" y="228.60" font-size="7.0" font-weight="normal" font-style="italic" stroke="#000" stroke-width="0.2" text-anchor="end" transform="rotate(-58 396.80 228.60)">HEY1</text>
<line x1="407.85" y1="196.50" x2="407.85" y2="194.61" stroke="#000" stroke-width="0.7" />
<line x1="407.05" y1="194.61" x2="408.65" y2="194.61" stroke="#000" stroke-width="0.7" />
<rect x="405.90" y="196.50" width="3.90" height="26.30" fill="#fff" stroke="#000" stroke-width="0.6" />
<line x1="411.75" y1="194.90" x2="411.75" y2="193.07" stroke="#000" stroke-width="0.7" />
<line x1="410.95" y1="193.07" x2="412.55" y2="193.07" stroke="#000" stroke-width="0.7" />
<rect x="409.80" y="194.90" width="3.90" height="27.90" fill="#dcdcdc" stroke="none" stroke-width="0" />
<line x1="415.65" y1="178.12" x2="415.65" y2="176.03" stroke="#000" stroke-width="0.7" />
<line x1="414.85" y1="176.03" x2="416.45" y2="176.03" stroke="#000" stroke-width="0.7" />
<rect x="413.70" y="178.12" width="3.90" height="44.68" fill="#000" stroke="none" stroke-width="0" />
<line x1="419.55" y1="193.50" x2="419.55" y2="191.49" stroke="#000" stroke-width="0.7" />
<line x1="418.75" y1="191.49" x2="420.35" y2="191.49" stroke="#000" stroke-width="0.7" />
<rect x="417.60" y="193.50" width="3.90" height="29.30" fill="#9a9a9a" stroke="none" stroke-width="0" />
<text x="418.70" y="228.60" font-size="7.0" font-weight="normal" font-style="italic" stroke="#000" stroke-width="0.2" text-anchor="end" transform="rotate(-58 418.70 228.60)">HEY2</text>
<line x1="429.75" y1="196.50" x2="429.75" y2="194.90" stroke="#000" stroke-width="0.7" />
<line x1="428.95" y1="194.90" x2="430.55" y2="194.90" stroke="#000" stroke-width="0.7" />
<rect x="427.80" y="196.50" width="3.90" height="26.30" fill="#fff" stroke="#000" stroke-width="0.6" />
<line x1="433.65" y1="196.50" x2="433.65" y2="195.21" stroke="#000" stroke-width="0.7" />
<line x1="432.85" y1="195.21" x2="434.45" y2="195.21" stroke="#000" stroke-width="0.7" />
<rect x="431.70" y="196.50" width="3.90" height="26.30" fill="#dcdcdc" stroke="none" stroke-width="0" />
<line x1="437.55" y1="175.12" x2="437.55" y2="173.33" stroke="#000" stroke-width="0.7" />
<line x1="436.75" y1="173.33" x2="438.35" y2="173.33" stroke="#000" stroke-width="0.7" />
<rect x="435.60" y="175.12" width="3.90" height="47.68" fill="#000" stroke="none" stroke-width="0" />
<line x1="441.45" y1="196.50" x2="441.45" y2="194.61" stroke="#000" stroke-width="0.7" />
<line x1="440.65" y1="194.61" x2="442.25" y2="194.61" stroke="#000" stroke-width="0.7" />
<rect x="439.50" y="196.50" width="3.90" height="26.30" fill="#9a9a9a" stroke="none" stroke-width="0" />
<text x="440.60" y="228.60" font-size="7.0" font-weight="normal" font-style="italic" stroke="#000" stroke-width="0.2" text-anchor="end" transform="rotate(-58 440.60 228.60)">EFNB2</text>
<line x1="451.65" y1="196.50" x2="451.65" y2="194.90" stroke="#000" stroke-width="0.7" />
<line x1="450.85" y1="194.90" x2="452.45" y2="194.90" stroke="#000" stroke-width="0.7" />
<rect x="449.70" y="196.50" width="3.90" height="26.30" fill="#fff" stroke="#000" stroke-width="0.6" />
<line x1="455.55" y1="194.42" x2="455.55" y2="192.66" stroke="#000" stroke-width="0.7" />
<line x1="454.75" y1="192.66" x2="456.35" y2="192.66" stroke="#000" stroke-width="0.7" />
<rect x="453.60" y="194.42" width="3.90" height="28.38" fill="#dcdcdc" stroke="none" stroke-width="0" />
<line x1="459.45" y1="193.95" x2="459.45" y2="192.66" stroke="#000" stroke-width="0.7" />
<line x1="458.65" y1="192.66" x2="460.25" y2="192.66" stroke="#000" stroke-width="0.7" />
<rect x="457.50" y="193.95" width="3.90" height="28.85" fill="#000" stroke="none" stroke-width="0" />
<line x1="463.35" y1="193.50" x2="463.35" y2="191.87" stroke="#000" stroke-width="0.7" />
<line x1="462.55" y1="191.87" x2="464.15" y2="191.87" stroke="#000" stroke-width="0.7" />
<rect x="461.40" y="193.50" width="3.90" height="29.30" fill="#9a9a9a" stroke="none" stroke-width="0" />
<text x="462.50" y="228.60" font-size="7.0" font-weight="normal" font-style="italic" stroke="#000" stroke-width="0.2" text-anchor="end" transform="rotate(-58 462.50 228.60)">EPHB4</text>
<line x1="473.55" y1="196.50" x2="473.55" y2="194.61" stroke="#000" stroke-width="0.7" />
<line x1="472.75" y1="194.61" x2="474.35" y2="194.61" stroke="#000" stroke-width="0.7" />
<rect x="471.60" y="196.50" width="3.90" height="26.30" fill="#fff" stroke="#000" stroke-width="0.6" />
<line x1="477.45" y1="195.41" x2="477.45" y2="193.50" stroke="#000" stroke-width="0.7" />
<line x1="476.65" y1="193.50" x2="478.25" y2="193.50" stroke="#000" stroke-width="0.7" />
<rect x="475.50" y="195.41" width="3.90" height="27.39" fill="#dcdcdc" stroke="none" stroke-width="0" />
<line x1="481.35" y1="197.09" x2="481.35" y2="194.90" stroke="#000" stroke-width="0.7" />
<line x1="480.55" y1="194.90" x2="482.15" y2="194.90" stroke="#000" stroke-width="0.7" />
<rect x="479.40" y="197.09" width="3.90" height="25.71" fill="#000" stroke="none" stroke-width="0" />
<line x1="485.25" y1="194.90" x2="485.25" y2="192.66" stroke="#000" stroke-width="0.7" />
<line x1="484.45" y1="192.66" x2="486.05" y2="192.66" stroke="#000" stroke-width="0.7" />
<rect x="483.30" y="194.90" width="3.90" height="27.90" fill="#9a9a9a" stroke="none" stroke-width="0" />
<text x="484.40" y="228.60" font-size="7.0" font-weight="normal" font-style="italic" stroke="#000" stroke-width="0.2" text-anchor="end" transform="rotate(-58 484.40 228.60)">NR2F2</text>
<line x1="495.45" y1="197.09" x2="495.45" y2="195.21" stroke="#000" stroke-width="0.7" />
<line x1="494.65" y1="195.21" x2="496.25" y2="195.21" stroke="#000" stroke-width="0.7" />
<rect x="493.50" y="197.09" width="3.90" height="25.71" fill="#fff" stroke="#000" stroke-width="0.6" />
<line x1="499.35" y1="193.50" x2="499.35" y2="191.13" stroke="#000" stroke-width="0.7" />
<line x1="498.55" y1="191.13" x2="500.15" y2="191.13" stroke="#000" stroke-width="0.7" />
<rect x="497.40" y="193.50" width="3.90" height="29.30" fill="#dcdcdc" stroke="none" stroke-width="0" />
<line x1="503.25" y1="206.41" x2="503.25" y2="204.42" stroke="#000" stroke-width="0.7" />
<line x1="502.45" y1="204.42" x2="504.05" y2="204.42" stroke="#000" stroke-width="0.7" />
<rect x="501.30" y="206.41" width="3.90" height="16.39" fill="#000" stroke="none" stroke-width="0" />
<line x1="507.15" y1="192.66" x2="507.15" y2="190.44" stroke="#000" stroke-width="0.7" />
<line x1="506.35" y1="190.44" x2="507.95" y2="190.44" stroke="#000" stroke-width="0.7" />
<rect x="505.20" y="192.66" width="3.90" height="30.14" fill="#9a9a9a" stroke="none" stroke-width="0" />
<text x="506.30" y="228.60" font-size="7.0" font-weight="normal" font-style="italic" stroke="#000" stroke-width="0.2" text-anchor="end" transform="rotate(-58 506.30 228.60)">NRP2</text>
<line x1="324.15" y1="209.51" x2="324.15" y2="213.79" stroke="#000" stroke-width="0.7" />
<line x1="323.45" y1="213.79" x2="324.85" y2="213.79" stroke="#000" stroke-width="0.7" />
<line x1="317.70" y1="188.00" x2="324.60" y2="188.00" stroke="#000" stroke-width="1.0" />
<path d="M321.00,184.00L321.00,181.10M321.00,184.00L323.76,183.10M321.00,184.00L322.70,186.35M321.00,184.00L319.30,186.35M321.00,184.00L318.24,183.10" stroke="#000" stroke-width="1.4" stroke-linecap="round" fill="none"/>
<line x1="319.20" y1="167.50" x2="328.30" y2="167.50" stroke="#000" stroke-width="1.0" />
<path d="M323.40,163.60L323.40,160.70M323.40,163.60L326.16,162.70M323.40,163.60L325.10,165.95M323.40,163.60L321.70,165.95M323.40,163.60L320.64,162.70" stroke="#000" stroke-width="1.4" stroke-linecap="round" fill="none"/>
<line x1="327.60" y1="159.60" x2="334.00" y2="159.60" stroke="#000" stroke-width="1.0" />
<path d="M330.80,155.60L330.80,152.70M330.80,155.60L333.56,154.70M330.80,155.60L332.50,157.95M330.80,155.60L329.10,157.95M330.80,155.60L328.04,154.70" stroke="#000" stroke-width="1.4" stroke-linecap="round" fill="none"/>
<line x1="384.00" y1="158.50" x2="392.60" y2="158.50" stroke="#000" stroke-width="1.0" />
<path d="M389.30,154.00L389.30,151.10M389.30,154.00L392.06,153.10M389.30,154.00L391.00,156.35M389.30,154.00L387.60,156.35M389.30,154.00L386.54,153.10" stroke="#000" stroke-width="1.4" stroke-linecap="round" fill="none"/>
<line x1="392.60" y1="150.30" x2="400.00" y2="150.30" stroke="#000" stroke-width="1.0" />
<path d="M396.00,146.30L396.00,143.40M396.00,146.30L398.76,145.40M396.00,146.30L397.70,148.65M396.00,146.30L394.30,148.65M396.00,146.30L393.24,145.40" stroke="#000" stroke-width="1.4" stroke-linecap="round" fill="none"/>
<line x1="405.40" y1="172.50" x2="413.90" y2="172.50" stroke="#000" stroke-width="1.0" />
<path d="M409.40,168.50L409.40,165.60M409.40,168.50L412.16,167.60M409.40,168.50L411.10,170.85M409.40,168.50L407.70,170.85M409.40,168.50L406.64,167.60" stroke="#000" stroke-width="1.4" stroke-linecap="round" fill="none"/>
<line x1="412.90" y1="166.00" x2="420.40" y2="166.00" stroke="#000" stroke-width="1.0" />
<path d="M417.90,162.00L417.90,159.10M417.90,162.00L420.66,161.10M417.90,162.00L419.60,164.35M417.90,162.00L416.20,164.35M417.90,162.00L415.14,161.10" stroke="#000" stroke-width="1.4" stroke-linecap="round" fill="none"/>
<line x1="427.30" y1="168.00" x2="435.80" y2="168.00" stroke="#000" stroke-width="1.0" />
<path d="M431.30,164.00L431.30,161.10M431.30,164.00L434.06,163.10M431.30,164.00L433.00,166.35M431.30,164.00L429.60,166.35M431.30,164.00L428.54,163.10" stroke="#000" stroke-width="1.4" stroke-linecap="round" fill="none"/>
<line x1="433.80" y1="160.00" x2="441.30" y2="160.00" stroke="#000" stroke-width="1.0" />
<path d="M437.30,156.00L437.30,153.10M437.30,156.00L440.06,155.10M437.30,156.00L439.00,158.35M437.30,156.00L435.60,158.35M437.30,156.00L434.54,155.10" stroke="#000" stroke-width="1.4" stroke-linecap="round" fill="none"/>
<text x="-0.30" y="268.70" font-size="11.5" font-weight="bold" font-style="normal" fill="#000" text-anchor="start" stroke="#000" stroke-width="0.25" >F</text>
<text x="0" y="0" font-size="9.0" font-weight="bold" fill="#ad3422" stroke="#ad3422" stroke-width="0.2" transform="translate(482.9 268.2) scale(0.9 1)">HUAEC-C</text>
<text x="0" y="0" font-size="7.9" transform="translate(6.8 335.8) rotate(-90)" text-anchor="middle">relative expression</text>
<line x1="23.60" y1="382.30" x2="25.80" y2="382.30" stroke="#000" stroke-width="1.1" />
<text x="20.20" y="385.10" font-size="8.0" font-weight="normal" font-style="normal" fill="#000" text-anchor="end" stroke="#000" stroke-width="0.15" >10</text>
<text x="20.40" y="381.10" font-size="5.0" font-weight="normal" font-style="normal" fill="#000" text-anchor="start" stroke="#000" stroke-width="0.15" >0</text>
<line x1="23.60" y1="357.30" x2="25.80" y2="357.30" stroke="#000" stroke-width="1.1" />
<text x="20.20" y="360.10" font-size="8.0" font-weight="normal" font-style="normal" fill="#000" text-anchor="end" stroke="#000" stroke-width="0.15" >10</text>
<text x="20.40" y="356.10" font-size="5.0" font-weight="normal" font-style="normal" fill="#000" text-anchor="start" stroke="#000" stroke-width="0.15" >1</text>
<line x1="23.60" y1="332.30" x2="25.80" y2="332.30" stroke="#000" stroke-width="1.1" />
<text x="20.20" y="335.10" font-size="8.0" font-weight="normal" font-style="normal" fill="#000" text-anchor="end" stroke="#000" stroke-width="0.15" >10</text>
<text x="20.40" y="331.10" font-size="5.0" font-weight="normal" font-style="normal" fill="#000" text-anchor="start" stroke="#000" stroke-width="0.15" >2</text>
<line x1="23.60" y1="307.30" x2="25.80" y2="307.30" stroke="#000" stroke-width="1.1" />
<text x="20.20" y="310.10" font-size="8.0" font-weight="normal" font-style="normal" fill="#000" text-anchor="end" stroke="#000" stroke-width="0.15" >10</text>
<text x="20.40" y="306.10" font-size="5.0" font-weight="normal" font-style="normal" fill="#000" text-anchor="start" stroke="#000" stroke-width="0.15" >3</text>
<line x1="23.60" y1="282.30" x2="25.80" y2="282.30" stroke="#000" stroke-width="1.1" />
<text x="20.20" y="285.10" font-size="8.0" font-weight="normal" font-style="normal" fill="#000" text-anchor="end" stroke="#000" stroke-width="0.15" >10</text>
<text x="20.40" y="281.10" font-size="5.0" font-weight="normal" font-style="normal" fill="#000" text-anchor="start" stroke="#000" stroke-width="0.15" >4</text>
<line x1="35.00" y1="326.20" x2="35.00" y2="324.90" stroke="#000" stroke-width="0.8" />
<line x1="34.10" y1="324.90" x2="35.90" y2="324.90" stroke="#000" stroke-width="0.8" />
<rect x="33.65" y="326.55" width="2.70" height="56.10" fill="#e2e2e2" stroke="#111" stroke-width="0.7" />
<line x1="41.05" y1="331.30" x2="41.05" y2="330.00" stroke="#000" stroke-width="0.8" />
<line x1="40.15" y1="330.00" x2="41.95" y2="330.00" stroke="#000" stroke-width="0.8" />
<rect x="39.70" y="331.65" width="2.70" height="51.00" fill="#e2e2e2" stroke="#111" stroke-width="0.7" />
<line x1="47.10" y1="324.30" x2="47.10" y2="323.00" stroke="#000" stroke-width="0.8" />
<line x1="46.20" y1="323.00" x2="48.00" y2="323.00" stroke="#000" stroke-width="0.8" />
<rect x="45.75" y="324.65" width="2.70" height="58.00" fill="#e2e2e2" stroke="#111" stroke-width="0.7" />
<rect x="51.25" y="303.30" width="3.80" height="79.00" fill="#000" stroke="none" stroke-width="0" />
<line x1="59.20" y1="370.70" x2="59.20" y2="356.40" stroke="#000" stroke-width="0.8" />
<line x1="58.30" y1="356.40" x2="60.10" y2="356.40" stroke="#000" stroke-width="0.8" />
<rect x="57.85" y="371.05" width="2.70" height="11.60" fill="#e2e2e2" stroke="#111" stroke-width="0.7" />
<line x1="65.25" y1="321.20" x2="65.25" y2="319.60" stroke="#000" stroke-width="0.8" />
<line x1="64.35" y1="319.60" x2="66.15" y2="319.60" stroke="#000" stroke-width="0.8" />
<rect x="63.90" y="321.55" width="2.70" height="61.10" fill="#e2e2e2" stroke="#111" stroke-width="0.7" />
<line x1="71.30" y1="321.20" x2="71.30" y2="319.60" stroke="#000" stroke-width="0.8" />
<line x1="70.40" y1="319.60" x2="72.20" y2="319.60" stroke="#000" stroke-width="0.8" />
<rect x="69.95" y="321.55" width="2.70" height="61.10" fill="#e2e2e2" stroke="#111" stroke-width="0.7" />
<line x1="77.35" y1="329.30" x2="77.35" y2="328.00" stroke="#000" stroke-width="0.8" />
<line x1="76.45" y1="328.00" x2="78.25" y2="328.00" stroke="#000" stroke-width="0.8" />
<rect x="76.00" y="329.65" width="2.70" height="53.00" fill="#e2e2e2" stroke="#111" stroke-width="0.7" />
<rect x="81.50" y="309.80" width="3.80" height="72.50" fill="#000" stroke="none" stroke-width="0" />
<line x1="89.45" y1="334.50" x2="89.45" y2="333.20" stroke="#000" stroke-width="0.8" />
<line x1="88.55" y1="333.20" x2="90.35" y2="333.20" stroke="#000" stroke-width="0.8" />
<rect x="88.10" y="334.85" width="2.70" height="47.80" fill="#e2e2e2" stroke="#111" stroke-width="0.7" />
<line x1="95.50" y1="327.30" x2="95.50" y2="321.20" stroke="#000" stroke-width="0.8" />
<line x1="94.60" y1="321.20" x2="96.40" y2="321.20" stroke="#000" stroke-width="0.8" />
<rect x="94.15" y="327.65" width="2.70" height="55.00" fill="#e2e2e2" stroke="#111" stroke-width="0.7" />
<line x1="101.55" y1="323.90" x2="101.55" y2="322.60" stroke="#000" stroke-width="0.8" />
<line x1="100.65" y1="322.60" x2="102.45" y2="322.60" stroke="#000" stroke-width="0.8" />
<rect x="100.20" y="324.25" width="2.70" height="58.40" fill="#e2e2e2" stroke="#111" stroke-width="0.7" />
<line x1="107.60" y1="327.00" x2="107.60" y2="323.30" stroke="#000" stroke-width="0.8" />
<line x1="106.70" y1="323.30" x2="108.50" y2="323.30" stroke="#000" stroke-width="0.8" />
<rect x="106.25" y="327.35" width="2.70" height="55.30" fill="#e2e2e2" stroke="#111" stroke-width="0.7" />
<rect x="111.75" y="318.60" width="3.80" height="63.70" fill="#000" stroke="none" stroke-width="0" />
<rect x="117.80" y="306.80" width="3.80" height="75.50" fill="#000" stroke="none" stroke-width="0" />
<line x1="125.75" y1="336.00" x2="125.75" y2="334.70" stroke="#000" stroke-width="0.8" />
<line x1="124.85" y1="334.70" x2="126.65" y2="334.70" stroke="#000" stroke-width="0.8" />
<rect x="124.40" y="336.35" width="2.70" height="46.30" fill="#e2e2e2" stroke="#111" stroke-width="0.7" />
<rect x="129.90" y="315.20" width="3.80" height="67.10" fill="#000" stroke="none" stroke-width="0" />
<line x1="137.85" y1="326.60" x2="137.85" y2="324.00" stroke="#000" stroke-width="0.8" />
<line x1="136.95" y1="324.00" x2="138.75" y2="324.00" stroke="#000" stroke-width="0.8" />
<rect x="136.50" y="326.95" width="2.70" height="55.70" fill="#e2e2e2" stroke="#111" stroke-width="0.7" />
<line x1="143.90" y1="328.60" x2="143.90" y2="327.30" stroke="#000" stroke-width="0.8" />
<line x1="143.00" y1="327.30" x2="144.80" y2="327.30" stroke="#000" stroke-width="0.8" />
<rect x="142.55" y="328.95" width="2.70" height="53.70" fill="#e2e2e2" stroke="#111" stroke-width="0.7" />
<line x1="149.95" y1="330.00" x2="149.95" y2="328.70" stroke="#000" stroke-width="0.8" />
<line x1="149.05" y1="328.70" x2="150.85" y2="328.70" stroke="#000" stroke-width="0.8" />
<rect x="148.60" y="330.35" width="2.70" height="52.30" fill="#e2e2e2" stroke="#111" stroke-width="0.7" />
<line x1="156.00" y1="340.00" x2="156.00" y2="338.70" stroke="#000" stroke-width="0.8" />
<line x1="155.10" y1="338.70" x2="156.90" y2="338.70" stroke="#000" stroke-width="0.8" />
<rect x="154.30" y="340.00" width="3.40" height="42.30" fill="#adadad" stroke="#8a8a8a" stroke-width="0.5" />
<line x1="162.05" y1="329.30" x2="162.05" y2="327.40" stroke="#000" stroke-width="0.8" />
<line x1="161.15" y1="327.40" x2="162.95" y2="327.40" stroke="#000" stroke-width="0.8" />
<rect x="160.70" y="329.65" width="2.70" height="53.00" fill="#e2e2e2" stroke="#111" stroke-width="0.7" />
<rect x="166.20" y="323.50" width="3.80" height="58.80" fill="#000" stroke="none" stroke-width="0" />
<line x1="174.15" y1="340.50" x2="174.15" y2="339.20" stroke="#000" stroke-width="0.8" />
<line x1="173.25" y1="339.20" x2="175.05" y2="339.20" stroke="#000" stroke-width="0.8" />
<rect x="172.45" y="340.50" width="3.40" height="41.80" fill="#adadad" stroke="#8a8a8a" stroke-width="0.5" />
<line x1="180.20" y1="329.70" x2="180.20" y2="328.40" stroke="#000" stroke-width="0.8" />
<line x1="179.30" y1="328.40" x2="181.10" y2="328.40" stroke="#000" stroke-width="0.8" />
<rect x="178.85" y="330.05" width="2.70" height="52.60" fill="#e2e2e2" stroke="#111" stroke-width="0.7" />
<line x1="186.25" y1="338.30" x2="186.25" y2="337.00" stroke="#000" stroke-width="0.8" />
<line x1="185.35" y1="337.00" x2="187.15" y2="337.00" stroke="#000" stroke-width="0.8" />
<rect x="184.55" y="338.30" width="3.40" height="44.00" fill="#adadad" stroke="#8a8a8a" stroke-width="0.5" />
<line x1="192.30" y1="330.70" x2="192.30" y2="329.40" stroke="#000" stroke-width="0.8" />
<line x1="191.40" y1="329.40" x2="193.20" y2="329.40" stroke="#000" stroke-width="0.8" />
<rect x="190.95" y="331.05" width="2.70" height="51.60" fill="#e2e2e2" stroke="#111" stroke-width="0.7" />
<rect x="196.45" y="324.90" width="3.80" height="57.40" fill="#000" stroke="none" stroke-width="0" />
<line x1="204.40" y1="331.00" x2="204.40" y2="329.70" stroke="#000" stroke-width="0.8" />
<line x1="203.50" y1="329.70" x2="205.30" y2="329.70" stroke="#000" stroke-width="0.8" />
<rect x="203.05" y="331.35" width="2.70" height="51.30" fill="#e2e2e2" stroke="#111" stroke-width="0.7" />
<line x1="210.45" y1="330.50" x2="210.45" y2="329.20" stroke="#000" stroke-width="0.8" />
<line x1="209.55" y1="329.20" x2="211.35" y2="329.20" stroke="#000" stroke-width="0.8" />
<rect x="209.10" y="330.85" width="2.70" height="51.80" fill="#e2e2e2" stroke="#111" stroke-width="0.7" />
<line x1="216.50" y1="332.00" x2="216.50" y2="330.70" stroke="#000" stroke-width="0.8" />
<line x1="215.60" y1="330.70" x2="217.40" y2="330.70" stroke="#000" stroke-width="0.8" />
<rect x="215.15" y="332.35" width="2.70" height="50.30" fill="#e2e2e2" stroke="#111" stroke-width="0.7" />
<line x1="222.55" y1="331.60" x2="222.55" y2="330.30" stroke="#000" stroke-width="0.8" />
<line x1="221.65" y1="330.30" x2="223.45" y2="330.30" stroke="#000" stroke-width="0.8" />
<rect x="221.20" y="331.95" width="2.70" height="50.70" fill="#e2e2e2" stroke="#111" stroke-width="0.7" />
<line x1="228.60" y1="315.50" x2="228.60" y2="310.80" stroke="#000" stroke-width="0.8" />
<line x1="227.70" y1="310.80" x2="229.50" y2="310.80" stroke="#000" stroke-width="0.8" />
<rect x="227.25" y="315.85" width="2.70" height="66.80" fill="#e2e2e2" stroke="#111" stroke-width="0.7" />
<rect x="232.75" y="325.30" width="3.80" height="57.00" fill="#000" stroke="none" stroke-width="0" />
<line x1="240.70" y1="322.60" x2="240.70" y2="321.30" stroke="#000" stroke-width="0.8" />
<line x1="239.80" y1="321.30" x2="241.60" y2="321.30" stroke="#000" stroke-width="0.8" />
<rect x="239.35" y="322.95" width="2.70" height="59.70" fill="#e2e2e2" stroke="#111" stroke-width="0.7" />
<rect x="244.85" y="319.20" width="3.80" height="63.10" fill="#000" stroke="none" stroke-width="0" />
<rect x="250.90" y="321.20" width="3.80" height="61.10" fill="#000" stroke="none" stroke-width="0" />
<line x1="258.85" y1="328.90" x2="258.85" y2="327.60" stroke="#000" stroke-width="0.8" />
<line x1="257.95" y1="327.60" x2="259.75" y2="327.60" stroke="#000" stroke-width="0.8" />
<rect x="257.50" y="329.25" width="2.70" height="53.40" fill="#e2e2e2" stroke="#111" stroke-width="0.7" />
<rect x="263.00" y="325.70" width="3.80" height="56.60" fill="#000" stroke="none" stroke-width="0" />
<line x1="270.95" y1="335.10" x2="270.95" y2="333.20" stroke="#000" stroke-width="0.8" />
<line x1="270.05" y1="333.20" x2="271.85" y2="333.20" stroke="#000" stroke-width="0.8" />
<rect x="269.60" y="335.45" width="2.70" height="47.20" fill="#e2e2e2" stroke="#111" stroke-width="0.7" />
<line x1="277.00" y1="328.60" x2="277.00" y2="327.30" stroke="#000" stroke-width="0.8" />
<line x1="276.10" y1="327.30" x2="277.90" y2="327.30" stroke="#000" stroke-width="0.8" />
<rect x="275.65" y="328.95" width="2.70" height="53.70" fill="#e2e2e2" stroke="#111" stroke-width="0.7" />
<line x1="283.05" y1="328.40" x2="283.05" y2="326.00" stroke="#000" stroke-width="0.8" />
<line x1="282.15" y1="326.00" x2="283.95" y2="326.00" stroke="#000" stroke-width="0.8" />
<rect x="281.70" y="328.75" width="2.70" height="53.90" fill="#e2e2e2" stroke="#111" stroke-width="0.7" />
<line x1="289.10" y1="332.40" x2="289.10" y2="331.10" stroke="#000" stroke-width="0.8" />
<line x1="288.20" y1="331.10" x2="290.00" y2="331.10" stroke="#000" stroke-width="0.8" />
<rect x="287.75" y="332.75" width="2.70" height="49.90" fill="#e2e2e2" stroke="#111" stroke-width="0.7" />
<line x1="295.15" y1="329.30" x2="295.15" y2="328.00" stroke="#000" stroke-width="0.8" />
<line x1="294.25" y1="328.00" x2="296.05" y2="328.00" stroke="#000" stroke-width="0.8" />
<rect x="293.80" y="329.65" width="2.70" height="53.00" fill="#e2e2e2" stroke="#111" stroke-width="0.7" />
<rect x="299.30" y="321.90" width="3.80" height="60.40" fill="#000" stroke="none" stroke-width="0" />
<line x1="307.25" y1="324.90" x2="307.25" y2="323.60" stroke="#000" stroke-width="0.8" />
<line x1="306.35" y1="323.60" x2="308.15" y2="323.60" stroke="#000" stroke-width="0.8" />
<rect x="305.90" y="325.25" width="2.70" height="57.40" fill="#e2e2e2" stroke="#111" stroke-width="0.7" />
<line x1="313.30" y1="328.40" x2="313.30" y2="327.10" stroke="#000" stroke-width="0.8" />
<line x1="312.40" y1="327.10" x2="314.20" y2="327.10" stroke="#000" stroke-width="0.8" />
<rect x="311.95" y="328.75" width="2.70" height="53.90" fill="#e2e2e2" stroke="#111" stroke-width="0.7" />
<line x1="319.35" y1="330.70" x2="319.35" y2="329.40" stroke="#000" stroke-width="0.8" />
<line x1="318.45" y1="329.40" x2="320.25" y2="329.40" stroke="#000" stroke-width="0.8" />
<rect x="318.00" y="331.05" width="2.70" height="51.60" fill="#e2e2e2" stroke="#111" stroke-width="0.7" />
<line x1="325.40" y1="331.00" x2="325.40" y2="329.70" stroke="#000" stroke-width="0.8" />
<line x1="324.50" y1="329.70" x2="326.30" y2="329.70" stroke="#000" stroke-width="0.8" />
<rect x="324.05" y="331.35" width="2.70" height="51.30" fill="#e2e2e2" stroke="#111" stroke-width="0.7" />
<rect x="329.55" y="321.20" width="3.80" height="61.10" fill="#000" stroke="none" stroke-width="0" />
<rect x="335.60" y="326.30" width="3.80" height="56.00" fill="#000" stroke="none" stroke-width="0" />
<line x1="343.55" y1="339.60" x2="343.55" y2="338.30" stroke="#000" stroke-width="0.8" />
<line x1="342.65" y1="338.30" x2="344.45" y2="338.30" stroke="#000" stroke-width="0.8" />
<rect x="341.85" y="339.60" width="3.40" height="42.70" fill="#adadad" stroke="#8a8a8a" stroke-width="0.5" />
<line x1="349.60" y1="297.50" x2="349.60" y2="295.60" stroke="#000" stroke-width="0.8" />
<line x1="348.70" y1="295.60" x2="350.50" y2="295.60" stroke="#000" stroke-width="0.8" />
<rect x="347.90" y="297.50" width="3.40" height="84.80" fill="#d8d8d8" stroke="#555" stroke-width="0.7" />
<line x1="349.60" y1="297.50" x2="349.60" y2="382.30" stroke="#555" stroke-width="0.5" />
<rect x="353.75" y="295.90" width="3.80" height="86.40" fill="#000" stroke="none" stroke-width="0" />
<rect x="359.80" y="319.00" width="3.80" height="63.30" fill="#000" stroke="none" stroke-width="0" />
<line x1="367.75" y1="331.00" x2="367.75" y2="329.70" stroke="#000" stroke-width="0.8" />
<line x1="366.85" y1="329.70" x2="368.65" y2="329.70" stroke="#000" stroke-width="0.8" />
<rect x="366.40" y="331.35" width="2.70" height="51.30" fill="#e2e2e2" stroke="#111" stroke-width="0.7" />
<line x1="373.80" y1="331.80" x2="373.80" y2="330.50" stroke="#000" stroke-width="0.8" />
<line x1="372.90" y1="330.50" x2="374.70" y2="330.50" stroke="#000" stroke-width="0.8" />
<rect x="372.45" y="332.15" width="2.70" height="50.50" fill="#e2e2e2" stroke="#111" stroke-width="0.7" />
<rect x="377.95" y="311.80" width="3.80" height="70.50" fill="#000" stroke="none" stroke-width="0" />
<rect x="384.00" y="324.00" width="3.80" height="58.30" fill="#000" stroke="none" stroke-width="0" />
<line x1="391.95" y1="331.00" x2="391.95" y2="325.20" stroke="#000" stroke-width="0.8" />
<line x1="391.05" y1="325.20" x2="392.85" y2="325.20" stroke="#000" stroke-width="0.8" />
<rect x="390.60" y="331.35" width="2.70" height="51.30" fill="#e2e2e2" stroke="#111" stroke-width="0.7" />
<line x1="398.00" y1="331.30" x2="398.00" y2="330.00" stroke="#000" stroke-width="0.8" />
<line x1="397.10" y1="330.00" x2="398.90" y2="330.00" stroke="#000" stroke-width="0.8" />
<rect x="396.65" y="331.65" width="2.70" height="51.00" fill="#e2e2e2" stroke="#111" stroke-width="0.7" />
<rect x="402.15" y="317.50" width="3.80" height="64.80" fill="#000" stroke="none" stroke-width="0" />
<rect x="408.20" y="324.50" width="3.80" height="57.80" fill="#000" stroke="none" stroke-width="0" />
<line x1="416.15" y1="329.50" x2="416.15" y2="326.20" stroke="#000" stroke-width="0.8" />
<line x1="415.25" y1="326.20" x2="417.05" y2="326.20" stroke="#000" stroke-width="0.8" />
<rect x="414.80" y="329.85" width="2.70" height="52.80" fill="#e2e2e2" stroke="#111" stroke-width="0.7" />
<line x1="440.50" y1="333.30" x2="440.50" y2="332.00" stroke="#000" stroke-width="0.8" />
<line x1="439.60" y1="332.00" x2="441.40" y2="332.00" stroke="#000" stroke-width="0.8" />
<rect x="439.15" y="333.65" width="2.70" height="49.00" fill="#e2e2e2" stroke="#111" stroke-width="0.7" />
<line x1="446.63" y1="333.80" x2="446.63" y2="332.50" stroke="#000" stroke-width="0.8" />
<line x1="445.73" y1="332.50" x2="447.53" y2="332.50" stroke="#000" stroke-width="0.8" />
<rect x="445.28" y="334.15" width="2.70" height="48.50" fill="#e2e2e2" stroke="#111" stroke-width="0.7" />
<rect x="450.86" y="326.30" width="3.80" height="56.00" fill="#000" stroke="none" stroke-width="0" />
<rect x="456.99" y="326.30" width="3.80" height="56.00" fill="#000" stroke="none" stroke-width="0" />
<line x1="465.02" y1="332.50" x2="465.02" y2="331.20" stroke="#000" stroke-width="0.8" />
<line x1="464.12" y1="331.20" x2="465.92" y2="331.20" stroke="#000" stroke-width="0.8" />
<rect x="463.67" y="332.85" width="2.70" height="49.80" fill="#e2e2e2" stroke="#111" stroke-width="0.7" />
<line x1="471.15" y1="329.50" x2="471.15" y2="328.20" stroke="#000" stroke-width="0.8" />
<line x1="470.25" y1="328.20" x2="472.05" y2="328.20" stroke="#000" stroke-width="0.8" />
<rect x="469.80" y="329.85" width="2.70" height="52.80" fill="#e2e2e2" stroke="#111" stroke-width="0.7" />
<line x1="477.28" y1="332.50" x2="477.28" y2="331.20" stroke="#000" stroke-width="0.8" />
<line x1="476.38" y1="331.20" x2="478.18" y2="331.20" stroke="#000" stroke-width="0.8" />
<rect x="475.93" y="332.85" width="2.70" height="49.80" fill="#e2e2e2" stroke="#111" stroke-width="0.7" />
<line x1="483.41" y1="331.30" x2="483.41" y2="330.00" stroke="#000" stroke-width="0.8" />
<line x1="482.51" y1="330.00" x2="484.31" y2="330.00" stroke="#000" stroke-width="0.8" />
<rect x="482.06" y="331.65" width="2.70" height="51.00" fill="#e2e2e2" stroke="#111" stroke-width="0.7" />
<line x1="489.54" y1="321.30" x2="489.54" y2="318.80" stroke="#000" stroke-width="0.8" />
<line x1="488.64" y1="318.80" x2="490.44" y2="318.80" stroke="#000" stroke-width="0.8" />
<rect x="488.19" y="321.65" width="2.70" height="61.00" fill="#e2e2e2" stroke="#111" stroke-width="0.7" />
<line x1="495.67" y1="335.00" x2="495.67" y2="333.70" stroke="#000" stroke-width="0.8" />
<line x1="494.77" y1="333.70" x2="496.57" y2="333.70" stroke="#000" stroke-width="0.8" />
<rect x="494.32" y="335.35" width="2.70" height="47.30" fill="#e2e2e2" stroke="#111" stroke-width="0.7" />
<line x1="501.80" y1="330.00" x2="501.80" y2="328.70" stroke="#000" stroke-width="0.8" />
<line x1="500.90" y1="328.70" x2="502.70" y2="328.70" stroke="#000" stroke-width="0.8" />
<rect x="500.45" y="330.35" width="2.70" height="52.30" fill="#e2e2e2" stroke="#111" stroke-width="0.7" />
<line x1="507.93" y1="328.00" x2="507.93" y2="326.70" stroke="#000" stroke-width="0.8" />
<line x1="507.03" y1="326.70" x2="508.83" y2="326.70" stroke="#000" stroke-width="0.8" />
<rect x="506.58" y="328.35" width="2.70" height="54.30" fill="#e2e2e2" stroke="#111" stroke-width="0.7" />
<line x1="26.50" y1="331.80" x2="520.00" y2="331.80" stroke="#b8322a" stroke-width="1.1" stroke-dasharray="2.8,2.3"/>
<rect x="201.50" y="353.20" width="53.00" height="10.50" fill="#fff" stroke="none" stroke-width="0" />
<text x="203.20" y="361.00" font-size="8.3" font-weight="normal" font-style="normal" fill="#000" text-anchor="start" stroke="#000" stroke-width="0.3" >arterial genes</text>
<rect x="445.00" y="354.30" width="55.00" height="9.50" fill="#fff" stroke="none" stroke-width="0" />
<text x="446.80" y="361.50" font-size="8.3" font-weight="normal" font-style="normal" fill="#000" text-anchor="start" stroke="#000" stroke-width="0.3" >venous genes</text>
<line x1="25.80" y1="281.80" x2="25.80" y2="383.00" stroke="#000" stroke-width="1.5" />
<line x1="25.10" y1="382.30" x2="510.50" y2="382.30" stroke="#000" stroke-width="1.5" />
<text x="54.70" y="278.60" font-size="8.4" stroke="#000" stroke-width="0.2" transform="rotate(-58 54.70 278.60)">H19</text>
<path d="M52.80,279.00 L52.80,291.00" stroke="#000" stroke-width="1.0" fill="none"/>
<path d="M53.10,298.10L53.10,295.35M53.10,298.10L55.72,297.25M53.10,298.10L54.72,300.32M53.10,298.10L51.48,300.32M53.10,298.10L50.48,297.25" stroke="#000" stroke-width="1.4" stroke-linecap="round" fill="none"/>
<text x="85.00" y="293.30" font-size="8.4" stroke="#000" stroke-width="0.2" transform="rotate(-58 85.00 293.30)">SEMA3G</text>
<path d="M83.40,293.80 L83.40,298.50" stroke="#000" stroke-width="1.0" fill="none"/>
<path d="M83.40,304.20L83.40,301.45M83.40,304.20L86.02,303.35M83.40,304.20L85.02,306.42M83.40,304.20L81.78,306.42M83.40,304.20L80.78,303.35" stroke="#000" stroke-width="1.4" stroke-linecap="round" fill="none"/>
<text x="114.50" y="290.70" font-size="8.4" stroke="#000" stroke-width="0.2" transform="rotate(-58 114.50 290.70)">COL4A2</text>
<path d="M113.10,291.70 L113.10,309.50" stroke="#000" stroke-width="1.0" fill="none"/>
<path d="M113.30,314.20L113.30,311.45M113.30,314.20L115.92,313.35M113.30,314.20L114.92,316.42M113.30,314.20L111.68,316.42M113.30,314.20L110.68,313.35" stroke="#000" stroke-width="1.4" stroke-linecap="round" fill="none"/>
<text x="129.20" y="283.80" font-size="8.4" stroke="#000" stroke-width="0.2" transform="rotate(-58 129.20 283.80)">HEY2</text>
<path d="M123.00,284.50 L119.70,295.20" stroke="#000" stroke-width="1.0" fill="none"/>
<path d="M120.00,301.00L120.00,298.25M120.00,301.00L122.62,300.15M120.00,301.00L121.62,303.22M120.00,301.00L118.38,303.22M120.00,301.00L117.38,300.15" stroke="#000" stroke-width="1.4" stroke-linecap="round" fill="none"/>
<text x="132.70" y="293.30" font-size="8.4" stroke="#000" stroke-width="0.2" transform="rotate(-58 132.70 293.30)">COL4A1</text>
<path d="M131.60,295.20 L131.60,304.00" stroke="#000" stroke-width="1.0" fill="none"/>
<path d="M131.60,310.60L131.60,307.85M131.60,310.60L134.22,309.75M131.60,310.60L133.22,312.82M131.60,310.60L129.98,312.82M131.60,310.60L128.98,309.75" stroke="#000" stroke-width="1.4" stroke-linecap="round" fill="none"/>
<text x="158.10" y="281.20" font-size="8.4" stroke="#000" stroke-width="0.2" transform="rotate(-58 158.10 281.20)">KDR</text>
<path d="M155.80,282.20 L155.80,331.00" stroke="#000" stroke-width="1.0" fill="none"/>
<path d="M156.00,335.60L156.00,332.85M156.00,335.60L158.62,334.75M156.00,335.60L157.62,337.82M156.00,335.60L154.38,337.82M156.00,335.60L153.38,334.75" stroke="#000" stroke-width="1.4" stroke-linecap="round" fill="none"/>
<text x="170.80" y="275.20" font-size="8.4" stroke="#000" stroke-width="0.2" transform="rotate(-58 170.80 275.20)">XG</text>
<path d="M168.00,275.50 L168.00,314.80" stroke="#000" stroke-width="1.0" fill="none"/>
<path d="M168.30,318.80L168.30,316.05M168.30,318.80L170.92,317.95M168.30,318.80L169.92,321.02M168.30,318.80L166.68,321.02M168.30,318.80L165.68,317.95" stroke="#000" stroke-width="1.4" stroke-linecap="round" fill="none"/>
<text x="176.80" y="290.70" font-size="8.4" stroke="#000" stroke-width="0.2" transform="rotate(-58 176.80 290.70)">RGC32</text>
<path d="M174.40,291.00 L174.40,332.00" stroke="#000" stroke-width="1.0" fill="none"/>
<path d="M174.40,336.20L174.40,333.45M174.40,336.20L177.02,335.35M174.40,336.20L176.02,338.42M174.40,336.20L172.78,338.42M174.40,336.20L171.78,335.35" stroke="#000" stroke-width="1.4" stroke-linecap="round" fill="none"/>
<text x="187.70" y="303.20" font-size="8.4" stroke="#000" stroke-width="0.2" transform="rotate(-58 187.70 303.20)">TMEM200A</text>
<path d="M186.10,303.80 L186.10,329.20" stroke="#000" stroke-width="1.0" fill="none"/>
<path d="M186.30,333.60L186.30,330.85M186.30,333.60L188.92,332.75M186.30,333.60L187.92,335.82M186.30,333.60L184.68,335.82M186.30,333.60L183.68,332.75" stroke="#000" stroke-width="1.4" stroke-linecap="round" fill="none"/>
<text x="206.20" y="285.40" font-size="8.4" stroke="#000" stroke-width="0.2" transform="rotate(-58 206.20 285.40)">TFPI2</text>
<path d="M203.20,286.50 L198.20,294.30 L198.20,315.00" stroke="#000" stroke-width="1.0" fill="none"/>
<path d="M198.40,320.00L198.40,317.25M198.40,320.00L201.02,319.15M198.40,320.00L200.02,322.22M198.40,320.00L196.78,322.22M198.40,320.00L195.78,319.15" stroke="#000" stroke-width="1.4" stroke-linecap="round" fill="none"/>
<text x="237.20" y="292.50" font-size="8.4" stroke="#000" stroke-width="0.2" transform="rotate(-58 237.20 292.50)">HECW2</text>
<path d="M234.40,292.60 L234.40,315.50" stroke="#000" stroke-width="1.0" fill="none"/>
<path d="M234.50,320.00L234.50,317.25M234.50,320.00L237.12,319.15M234.50,320.00L236.12,322.22M234.50,320.00L232.88,322.22M234.50,320.00L231.88,319.15" stroke="#000" stroke-width="1.4" stroke-linecap="round" fill="none"/>
<text x="252.30" y="282.10" font-size="8.4" stroke="#000" stroke-width="0.2" transform="rotate(-58 252.30 282.10)">FAT1</text>
<path d="M249.00,282.20 L246.60,285.70 L246.60,310.50" stroke="#000" stroke-width="1.0" fill="none"/>
<path d="M246.60,314.90L246.60,312.15M246.60,314.90L249.22,314.05M246.60,314.90L248.22,317.12M246.60,314.90L244.98,317.12M246.60,314.90L243.98,314.05" stroke="#000" stroke-width="1.4" stroke-linecap="round" fill="none"/>
<text x="258.00" y="288.10" font-size="8.4" stroke="#000" stroke-width="0.2" transform="rotate(-58 258.00 288.10)">FOLH1</text>
<path d="M254.70,288.30 L253.00,291.70 L253.00,311.80" stroke="#000" stroke-width="1.0" fill="none"/>
<path d="M252.80,316.30L252.80,313.55M252.80,316.30L255.42,315.45M252.80,316.30L254.42,318.52M252.80,316.30L251.18,318.52M252.80,316.30L250.18,315.45" stroke="#000" stroke-width="1.4" stroke-linecap="round" fill="none"/>
<text x="270.50" y="285.20" font-size="8.4" stroke="#000" stroke-width="0.2" transform="rotate(-58 270.50 285.20)">RYR3</text>
<path d="M267.30,284.80 L264.60,289.10 L264.60,316.00" stroke="#000" stroke-width="1.0" fill="none"/>
<path d="M264.50,320.40L264.50,317.65M264.50,320.40L267.12,319.55M264.50,320.40L266.12,322.62M264.50,320.40L262.88,322.62M264.50,320.40L261.88,319.55" stroke="#000" stroke-width="1.4" stroke-linecap="round" fill="none"/>
<text x="303.50" y="290.70" font-size="8.4" stroke="#000" stroke-width="0.2" transform="rotate(-58 303.50 290.70)">PSMAL</text>
<path d="M301.20,290.00 L301.20,313.00" stroke="#000" stroke-width="1.0" fill="none"/>
<path d="M301.20,317.20L301.20,314.45M301.20,317.20L303.82,316.35M301.20,317.20L302.82,319.42M301.20,317.20L299.58,319.42M301.20,317.20L298.58,316.35" stroke="#000" stroke-width="1.4" stroke-linecap="round" fill="none"/>
<text x="334.00" y="285.60" font-size="8.4" stroke="#000" stroke-width="0.2" transform="rotate(-58 334.00 285.60)">MSX1</text>
<path d="M331.50,285.70 L331.50,311.50" stroke="#000" stroke-width="1.0" fill="none"/>
<path d="M331.80,315.80L331.80,313.05M331.80,315.80L334.42,314.95M331.80,315.80L333.42,318.02M331.80,315.80L330.18,318.02M331.80,315.80L329.18,314.95" stroke="#000" stroke-width="1.4" stroke-linecap="round" fill="none"/>
<text x="339.80" y="291.60" font-size="8.4" stroke="#000" stroke-width="0.2" transform="rotate(-58 339.80 291.60)">SLC2A1</text>
<path d="M337.60,291.70 L337.60,317.00" stroke="#000" stroke-width="1.0" fill="none"/>
<path d="M337.80,321.30L337.80,318.55M337.80,321.30L340.42,320.45M337.80,321.30L339.42,323.52M337.80,321.30L336.18,323.52M337.80,321.30L335.18,320.45" stroke="#000" stroke-width="1.4" stroke-linecap="round" fill="none"/>
<text x="350.80" y="288.10" font-size="8.4" stroke="#000" stroke-width="0.2" transform="rotate(-58 350.80 288.10)">GRB14</text>
<path d="M347.10,287.40 L343.30,295.20 L343.30,331.50" stroke="#000" stroke-width="1.0" fill="none"/>
<path d="M343.90,335.80L343.90,333.05M343.90,335.80L346.52,334.95M343.90,335.80L345.52,338.02M343.90,335.80L342.28,338.02M343.90,335.80L341.28,334.95" stroke="#000" stroke-width="1.4" stroke-linecap="round" fill="none"/>
<text x="364.70" y="291.60" font-size="8.4" stroke="#000" stroke-width="0.2" transform="rotate(-58 364.70 291.60)">CCDC3</text>
<path d="M355.70,290.90L355.70,288.15M355.70,290.90L358.32,290.05M355.70,290.90L357.32,293.12M355.70,290.90L354.08,293.12M355.70,290.90L353.08,290.05" stroke="#000" stroke-width="1.4" stroke-linecap="round" fill="none"/>
<text x="375.10" y="286.40" font-size="8.4" stroke="#000" stroke-width="0.2" transform="rotate(-58 375.10 286.40)">CUBN</text>
<path d="M371.40,286.50 L362.20,302.10 L362.20,310.00" stroke="#000" stroke-width="1.0" fill="none"/>
<path d="M362.00,314.80L362.00,312.05M362.00,314.80L364.62,313.95M362.00,314.80L363.62,317.02M362.00,314.80L360.38,317.02M362.00,314.80L359.38,313.95" stroke="#000" stroke-width="1.4" stroke-linecap="round" fill="none"/>
<text x="382.00" y="297.60" font-size="8.4" stroke="#000" stroke-width="0.2" transform="rotate(-58 382.00 297.60)">CYSLTR1</text>
<path d="M380.10,297.80 L380.10,301.50" stroke="#000" stroke-width="1.0" fill="none"/>
<path d="M380.00,307.00L380.00,304.25M380.00,307.00L382.62,306.15M380.00,307.00L381.62,309.22M380.00,307.00L378.38,309.22M380.00,307.00L377.38,306.15" stroke="#000" stroke-width="1.4" stroke-linecap="round" fill="none"/>
<text x="391.50" y="297.60" font-size="8.4" stroke="#000" stroke-width="0.2" transform="rotate(-58 391.50 297.60)">FAM176A</text>
<path d="M388.70,297.80 L386.70,302.10 L386.70,314.00" stroke="#000" stroke-width="1.0" fill="none"/>
<path d="M386.20,318.20L386.20,315.45M386.20,318.20L388.82,317.35M386.20,318.20L387.82,320.42M386.20,318.20L384.58,320.42M386.20,318.20L383.58,317.35" stroke="#000" stroke-width="1.4" stroke-linecap="round" fill="none"/>
<text x="407.10" y="286.40" font-size="8.4" stroke="#000" stroke-width="0.2" transform="rotate(-58 407.10 286.40)">LCHN</text>
<path d="M404.30,286.50 L404.30,308.20" stroke="#000" stroke-width="1.0" fill="none"/>
<path d="M404.20,312.00L404.20,309.25M404.20,312.00L406.82,311.15M404.20,312.00L405.82,314.22M404.20,312.00L402.58,314.22M404.20,312.00L401.58,311.15" stroke="#000" stroke-width="1.4" stroke-linecap="round" fill="none"/>
<text x="414.90" y="290.70" font-size="8.4" stroke="#000" stroke-width="0.2" transform="rotate(-58 414.90 290.70)">LMCD1</text>
<path d="M410.70,290.90 L410.70,313.40" stroke="#000" stroke-width="1.0" fill="none"/>
<path d="M410.30,318.20L410.30,315.45M410.30,318.20L412.92,317.35M410.30,318.20L411.92,320.42M410.30,318.20L408.68,320.42M410.30,318.20L407.68,317.35" stroke="#000" stroke-width="1.4" stroke-linecap="round" fill="none"/>
<text x="455.50" y="289.60" font-size="8.4" stroke="#000" stroke-width="0.2" transform="rotate(-58 455.50 289.60)">FLRT3</text>
<path d="M452.70,289.80 L452.70,316.20" stroke="#000" stroke-width="1.0" fill="none"/>
<path d="M452.70,321.60L452.70,318.85M452.70,321.60L455.32,320.75M452.70,321.60L454.32,323.82M452.70,321.60L451.08,323.82M452.70,321.60L450.08,320.75" stroke="#000" stroke-width="1.4" stroke-linecap="round" fill="none"/>
<text x="465.50" y="290.50" font-size="8.4" stroke="#000" stroke-width="0.2" transform="rotate(-58 465.50 290.50)">PAPLN</text>
<path d="M461.80,289.80 L458.20,295.30 L458.20,316.20" stroke="#000" stroke-width="1.0" fill="none"/>
<path d="M458.70,321.60L458.70,318.85M458.70,321.60L461.32,320.75M458.70,321.60L460.32,323.82M458.70,321.60L457.08,323.82M458.70,321.60L456.08,320.75" stroke="#000" stroke-width="1.4" stroke-linecap="round" fill="none"/>
<rect x="466.60" y="291.50" width="4.20" height="4.20" fill="#fff" stroke="#000" stroke-width="0.8" />
<text x="472.70" y="296.00" font-size="8.3" font-weight="bold" font-style="normal" fill="#000" text-anchor="start"  >DLL4 (3d) =</text>
<rect x="466.40" y="301.50" width="4.60" height="4.60" fill="#000" stroke="none" stroke-width="0" />
<text x="472.70" y="306.00" font-size="8.3" font-weight="bold" font-style="normal" fill="#000" text-anchor="start"  >DLL4 (3d) ▲</text>
<rect x="466.40" y="312.40" width="4.60" height="4.60" fill="#a8a8a8" stroke="none" stroke-width="0" />
<text x="472.70" y="317.00" font-size="8.3" font-weight="bold" font-style="normal" fill="#000" text-anchor="start"  >DLL4 (3d) ▼</text>
</svg></body></html>
